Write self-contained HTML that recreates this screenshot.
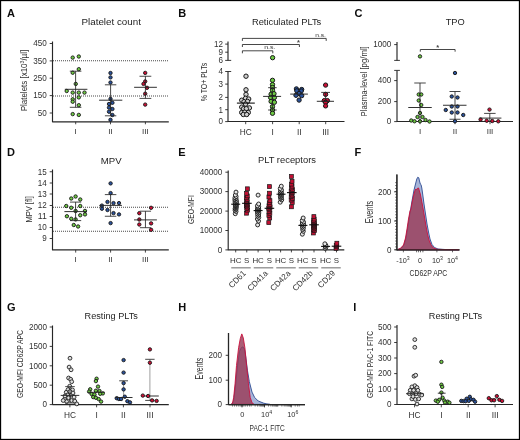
<!DOCTYPE html>
<html><head><meta charset="utf-8"><title>Figure</title>
<style>html,body{margin:0;padding:0;background:#fff;overflow:hidden;}svg{display:block;will-change:transform;}</style>
</head><body>
<svg width="520" height="440" viewBox="0 0 520 440">
<rect x="0" y="0" width="520" height="440" fill="#fff"/>
<g font-family='"Liberation Sans", sans-serif' fill="#303030">
<text x="7.00" y="16.50" font-size="11" font-weight="bold" fill="#0d0d0d">A</text>
<text x="81.50" y="24.95" font-size="9.4" fill="#1e1e1e" textLength="59.40" lengthAdjust="spacingAndGlyphs">Platelet count</text>
<line x1="52.50" y1="41.50" x2="52.50" y2="122.20" stroke="#262626" stroke-width="1.15"/>
<line x1="52.50" y1="121.80" x2="168.80" y2="121.80" stroke="#262626" stroke-width="1.15"/>
<line x1="49.70" y1="43.50" x2="52.50" y2="43.50" stroke="#262626" stroke-width="0.9"/>
<text x="46.80" y="46.30" font-size="9.2" text-anchor="end" textLength="13.51" lengthAdjust="spacingAndGlyphs">450</text>
<line x1="49.70" y1="60.90" x2="52.50" y2="60.90" stroke="#262626" stroke-width="0.9"/>
<text x="46.80" y="63.70" font-size="9.2" text-anchor="end" textLength="13.51" lengthAdjust="spacingAndGlyphs">350</text>
<line x1="49.70" y1="78.20" x2="52.50" y2="78.20" stroke="#262626" stroke-width="0.9"/>
<text x="46.80" y="81.00" font-size="9.2" text-anchor="end" textLength="13.51" lengthAdjust="spacingAndGlyphs">250</text>
<line x1="49.70" y1="95.60" x2="52.50" y2="95.60" stroke="#262626" stroke-width="0.9"/>
<text x="46.80" y="98.40" font-size="9.2" text-anchor="end" textLength="13.51" lengthAdjust="spacingAndGlyphs">150</text>
<line x1="49.70" y1="113.00" x2="52.50" y2="113.00" stroke="#262626" stroke-width="0.9"/>
<text x="46.80" y="115.80" font-size="9.2" text-anchor="end" textLength="9.01" lengthAdjust="spacingAndGlyphs">50</text>
<line x1="53.00" y1="60.70" x2="169.00" y2="60.70" stroke="#4a4a4a" stroke-width="1.1" stroke-dasharray="1 1"/>
<line x1="53.00" y1="96.00" x2="169.00" y2="96.00" stroke="#4a4a4a" stroke-width="1.1" stroke-dasharray="1 1"/>
<text x="27.10" y="80.55" font-size="8.5" text-anchor="middle" textLength="61.50" lengthAdjust="spacingAndGlyphs" transform="rotate(-90 27.10 80.55)">Platelets [x10<tspan font-size="5.5" dy="-3">3</tspan><tspan dy="3">/µl]</tspan></text>
<line x1="75.70" y1="121.80" x2="75.70" y2="124.30" stroke="#262626" stroke-width="0.85"/>
<text x="75.70" y="134.40" font-size="8" text-anchor="middle">I</text>
<line x1="110.50" y1="121.80" x2="110.50" y2="124.30" stroke="#262626" stroke-width="0.85"/>
<text x="110.50" y="134.40" font-size="8" text-anchor="middle">II</text>
<line x1="145.40" y1="121.80" x2="145.40" y2="124.30" stroke="#262626" stroke-width="0.85"/>
<text x="145.40" y="134.40" font-size="8" text-anchor="middle">III</text>
<circle cx="72.70" cy="57.60" r="1.7" fill="#6fcb45" stroke="#161616" stroke-width="0.9"/>
<circle cx="78.80" cy="56.50" r="1.7" fill="#6fcb45" stroke="#161616" stroke-width="0.9"/>
<circle cx="78.80" cy="69.20" r="1.7" fill="#6fcb45" stroke="#161616" stroke-width="0.9"/>
<circle cx="72.70" cy="72.70" r="1.7" fill="#6fcb45" stroke="#161616" stroke-width="0.9"/>
<circle cx="75.75" cy="83.90" r="1.7" fill="#6fcb45" stroke="#161616" stroke-width="0.9"/>
<circle cx="66.70" cy="91.00" r="1.7" fill="#6fcb45" stroke="#161616" stroke-width="0.9"/>
<circle cx="72.70" cy="92.60" r="1.7" fill="#6fcb45" stroke="#161616" stroke-width="0.9"/>
<circle cx="78.80" cy="92.60" r="1.7" fill="#6fcb45" stroke="#161616" stroke-width="0.9"/>
<circle cx="84.50" cy="92.60" r="1.7" fill="#6fcb45" stroke="#161616" stroke-width="0.9"/>
<circle cx="78.80" cy="97.40" r="1.7" fill="#6fcb45" stroke="#161616" stroke-width="0.9"/>
<circle cx="72.70" cy="99.30" r="1.7" fill="#6fcb45" stroke="#161616" stroke-width="0.9"/>
<circle cx="72.70" cy="101.70" r="1.7" fill="#6fcb45" stroke="#161616" stroke-width="0.9"/>
<circle cx="78.80" cy="105.20" r="1.7" fill="#6fcb45" stroke="#161616" stroke-width="0.9"/>
<circle cx="72.70" cy="114.10" r="1.7" fill="#6fcb45" stroke="#161616" stroke-width="0.9"/>
<circle cx="78.80" cy="114.90" r="1.7" fill="#6fcb45" stroke="#161616" stroke-width="0.9"/>
<line x1="75.60" y1="71.20" x2="75.60" y2="107.30" stroke="#262626" stroke-width="0.85"/>
<line x1="69.80" y1="71.20" x2="81.40" y2="71.20" stroke="#262626" stroke-width="0.85"/>
<line x1="69.80" y1="107.30" x2="81.40" y2="107.30" stroke="#262626" stroke-width="0.85"/>
<line x1="64.80" y1="89.30" x2="87.40" y2="89.30" stroke="#262626" stroke-width="0.95"/>
<circle cx="110.50" cy="73.00" r="1.7" fill="#2a529c" stroke="#161616" stroke-width="0.9"/>
<circle cx="110.50" cy="77.40" r="1.7" fill="#2a529c" stroke="#161616" stroke-width="0.9"/>
<circle cx="110.50" cy="82.50" r="1.7" fill="#2a529c" stroke="#161616" stroke-width="0.9"/>
<circle cx="110.50" cy="98.90" r="1.7" fill="#2a529c" stroke="#161616" stroke-width="0.9"/>
<circle cx="109.00" cy="104.00" r="1.7" fill="#2a529c" stroke="#161616" stroke-width="0.9"/>
<circle cx="112.40" cy="102.80" r="1.7" fill="#2a529c" stroke="#161616" stroke-width="0.9"/>
<circle cx="109.00" cy="107.60" r="1.7" fill="#2a529c" stroke="#161616" stroke-width="0.9"/>
<circle cx="112.40" cy="109.00" r="1.7" fill="#2a529c" stroke="#161616" stroke-width="0.9"/>
<circle cx="109.00" cy="111.70" r="1.7" fill="#2a529c" stroke="#161616" stroke-width="0.9"/>
<circle cx="112.40" cy="115.00" r="1.7" fill="#2a529c" stroke="#161616" stroke-width="0.9"/>
<circle cx="110.50" cy="119.80" r="1.7" fill="#2a529c" stroke="#161616" stroke-width="0.9"/>
<line x1="110.60" y1="84.80" x2="110.60" y2="115.80" stroke="#262626" stroke-width="0.85"/>
<line x1="104.90" y1="84.80" x2="116.30" y2="84.80" stroke="#262626" stroke-width="0.85"/>
<line x1="104.90" y1="115.80" x2="116.30" y2="115.80" stroke="#262626" stroke-width="0.85"/>
<line x1="99.10" y1="100.20" x2="122.30" y2="100.20" stroke="#262626" stroke-width="0.95"/>
<circle cx="145.20" cy="72.90" r="1.7" fill="#cc0f35" stroke="#161616" stroke-width="0.9"/>
<circle cx="145.20" cy="81.40" r="1.7" fill="#cc0f35" stroke="#161616" stroke-width="0.9"/>
<circle cx="143.50" cy="83.90" r="1.7" fill="#cc0f35" stroke="#161616" stroke-width="0.9"/>
<circle cx="147.00" cy="87.80" r="1.7" fill="#cc0f35" stroke="#161616" stroke-width="0.9"/>
<circle cx="145.20" cy="93.70" r="1.7" fill="#cc0f35" stroke="#161616" stroke-width="0.9"/>
<circle cx="145.20" cy="104.60" r="1.7" fill="#cc0f35" stroke="#161616" stroke-width="0.9"/>
<line x1="145.40" y1="76.25" x2="145.40" y2="98.40" stroke="#262626" stroke-width="0.85"/>
<line x1="139.50" y1="76.25" x2="151.30" y2="76.25" stroke="#262626" stroke-width="0.85"/>
<line x1="139.50" y1="98.40" x2="151.30" y2="98.40" stroke="#262626" stroke-width="0.85"/>
<line x1="134.10" y1="87.30" x2="156.90" y2="87.30" stroke="#262626" stroke-width="0.95"/>
<text x="178.30" y="16.50" font-size="11" font-weight="bold" fill="#0d0d0d">B</text>
<text x="251.90" y="24.95" font-size="9.2" fill="#1e1e1e" textLength="69.40" lengthAdjust="spacingAndGlyphs">Reticulated PLTs</text>
<line x1="228.00" y1="41.50" x2="228.00" y2="60.40" stroke="#262626" stroke-width="1.15"/>
<line x1="225.20" y1="60.40" x2="231.20" y2="60.40" stroke="#262626" stroke-width="0.9"/>
<line x1="228.00" y1="71.50" x2="228.00" y2="121.80" stroke="#262626" stroke-width="1.15"/>
<line x1="225.20" y1="71.50" x2="231.20" y2="71.50" stroke="#262626" stroke-width="0.9"/>
<line x1="228.00" y1="121.50" x2="344.50" y2="121.50" stroke="#262626" stroke-width="1.15"/>
<line x1="225.20" y1="44.10" x2="228.00" y2="44.10" stroke="#262626" stroke-width="0.9"/>
<text x="223.00" y="46.90" font-size="9.2" text-anchor="end" textLength="9.01" lengthAdjust="spacingAndGlyphs">12</text>
<line x1="225.20" y1="52.20" x2="228.00" y2="52.20" stroke="#262626" stroke-width="0.9"/>
<text x="223.00" y="55.00" font-size="9.2" text-anchor="end" textLength="4.50" lengthAdjust="spacingAndGlyphs">9</text>
<text x="223.00" y="63.20" font-size="9.2" text-anchor="end" textLength="4.50" lengthAdjust="spacingAndGlyphs">6</text>
<text x="223.00" y="74.30" font-size="9.2" text-anchor="end" textLength="4.50" lengthAdjust="spacingAndGlyphs">4</text>
<line x1="225.20" y1="84.10" x2="228.00" y2="84.10" stroke="#262626" stroke-width="0.9"/>
<text x="223.00" y="86.90" font-size="9.2" text-anchor="end" textLength="4.50" lengthAdjust="spacingAndGlyphs">3</text>
<line x1="225.20" y1="97.40" x2="228.00" y2="97.40" stroke="#262626" stroke-width="0.9"/>
<text x="223.00" y="100.20" font-size="9.2" text-anchor="end" textLength="4.50" lengthAdjust="spacingAndGlyphs">2</text>
<line x1="225.20" y1="109.70" x2="228.00" y2="109.70" stroke="#262626" stroke-width="0.9"/>
<text x="223.00" y="112.50" font-size="9.2" text-anchor="end" textLength="4.50" lengthAdjust="spacingAndGlyphs">1</text>
<line x1="225.20" y1="121.60" x2="228.00" y2="121.60" stroke="#262626" stroke-width="0.9"/>
<text x="223.00" y="124.40" font-size="9.2" text-anchor="end" textLength="4.50" lengthAdjust="spacingAndGlyphs">0</text>
<text x="207.40" y="82.05" font-size="9.0" text-anchor="middle" textLength="38.30" lengthAdjust="spacingAndGlyphs" transform="rotate(-90 207.40 82.05)">% TO+ PLTs</text>
<line x1="245.70" y1="121.50" x2="245.70" y2="124.20" stroke="#262626" stroke-width="0.85"/>
<text x="245.70" y="134.80" font-size="8.3" text-anchor="middle">HC</text>
<line x1="272.60" y1="121.50" x2="272.60" y2="124.20" stroke="#262626" stroke-width="0.85"/>
<text x="272.60" y="134.80" font-size="8.3" text-anchor="middle">I</text>
<line x1="299.20" y1="121.50" x2="299.20" y2="124.20" stroke="#262626" stroke-width="0.85"/>
<text x="299.20" y="134.80" font-size="8.3" text-anchor="middle">II</text>
<line x1="325.70" y1="121.50" x2="325.70" y2="124.20" stroke="#262626" stroke-width="0.85"/>
<text x="325.70" y="134.80" font-size="8.3" text-anchor="middle">III</text>
<polyline points="242.40,40.90 242.40,38.40 326.20,38.40 326.20,40.90" fill="none" stroke="#262626" stroke-width="0.85"/>
<polyline points="242.40,47.00 242.40,44.50 299.40,44.50 299.40,47.00" fill="none" stroke="#262626" stroke-width="0.85"/>
<polyline points="242.40,53.30 242.40,50.80 272.80,50.80 272.80,53.30" fill="none" stroke="#262626" stroke-width="0.85"/>
<text x="320.60" y="36.50" font-size="6.0" text-anchor="middle" textLength="10.80" lengthAdjust="spacingAndGlyphs">n.s.</text>
<text x="298.40" y="44.90" font-size="7.5" text-anchor="middle" font-weight="bold" fill="#444">*</text>
<text x="269.80" y="49.40" font-size="6.0" text-anchor="middle" textLength="11.30" lengthAdjust="spacingAndGlyphs">n.s.</text>
<circle cx="246.00" cy="76.20" r="2.2" fill="#cfcfcf" stroke="#161616" stroke-width="1.0"/>
<circle cx="246.00" cy="89.80" r="2.2" fill="#cfcfcf" stroke="#161616" stroke-width="1.0"/>
<circle cx="246.00" cy="94.40" r="2.2" fill="#cfcfcf" stroke="#161616" stroke-width="1.0"/>
<circle cx="245.60" cy="98.30" r="2.2" fill="#cfcfcf" stroke="#161616" stroke-width="1.0"/>
<circle cx="241.70" cy="100.20" r="2.2" fill="#cfcfcf" stroke="#161616" stroke-width="1.0"/>
<circle cx="248.70" cy="99.00" r="2.2" fill="#cfcfcf" stroke="#161616" stroke-width="1.0"/>
<circle cx="244.00" cy="101.70" r="2.2" fill="#cfcfcf" stroke="#161616" stroke-width="1.0"/>
<circle cx="247.50" cy="101.40" r="2.2" fill="#cfcfcf" stroke="#161616" stroke-width="1.0"/>
<circle cx="245.60" cy="104.10" r="2.2" fill="#cfcfcf" stroke="#161616" stroke-width="1.0"/>
<circle cx="241.70" cy="107.10" r="2.2" fill="#cfcfcf" stroke="#161616" stroke-width="1.0"/>
<circle cx="249.40" cy="107.90" r="2.2" fill="#cfcfcf" stroke="#161616" stroke-width="1.0"/>
<circle cx="243.60" cy="108.70" r="2.2" fill="#cfcfcf" stroke="#161616" stroke-width="1.0"/>
<circle cx="246.30" cy="108.70" r="2.2" fill="#cfcfcf" stroke="#161616" stroke-width="1.0"/>
<circle cx="241.70" cy="112.50" r="2.2" fill="#cfcfcf" stroke="#161616" stroke-width="1.0"/>
<circle cx="244.80" cy="112.20" r="2.2" fill="#cfcfcf" stroke="#161616" stroke-width="1.0"/>
<circle cx="248.30" cy="112.50" r="2.2" fill="#cfcfcf" stroke="#161616" stroke-width="1.0"/>
<circle cx="243.30" cy="114.50" r="2.2" fill="#cfcfcf" stroke="#161616" stroke-width="1.0"/>
<circle cx="246.70" cy="114.50" r="2.2" fill="#cfcfcf" stroke="#161616" stroke-width="1.0"/>
<line x1="236.90" y1="103.10" x2="254.80" y2="103.10" stroke="#111" stroke-width="1.1"/>
<circle cx="272.60" cy="57.70" r="2.15" fill="#6fcb45" stroke="#161616" stroke-width="1.0"/>
<circle cx="272.50" cy="80.30" r="2.15" fill="#6fcb45" stroke="#161616" stroke-width="1.0"/>
<circle cx="272.50" cy="84.60" r="2.15" fill="#6fcb45" stroke="#161616" stroke-width="1.0"/>
<circle cx="272.50" cy="87.50" r="2.15" fill="#6fcb45" stroke="#161616" stroke-width="1.0"/>
<circle cx="272.50" cy="90.40" r="2.15" fill="#6fcb45" stroke="#161616" stroke-width="1.0"/>
<circle cx="271.10" cy="94.20" r="2.15" fill="#6fcb45" stroke="#161616" stroke-width="1.0"/>
<circle cx="274.00" cy="93.70" r="2.15" fill="#6fcb45" stroke="#161616" stroke-width="1.0"/>
<circle cx="270.60" cy="97.50" r="2.15" fill="#6fcb45" stroke="#161616" stroke-width="1.0"/>
<circle cx="274.40" cy="97.50" r="2.15" fill="#6fcb45" stroke="#161616" stroke-width="1.0"/>
<circle cx="271.10" cy="101.40" r="2.15" fill="#6fcb45" stroke="#161616" stroke-width="1.0"/>
<circle cx="274.40" cy="102.30" r="2.15" fill="#6fcb45" stroke="#161616" stroke-width="1.0"/>
<circle cx="272.50" cy="106.60" r="2.15" fill="#6fcb45" stroke="#161616" stroke-width="1.0"/>
<circle cx="272.50" cy="110.00" r="2.15" fill="#6fcb45" stroke="#161616" stroke-width="1.0"/>
<circle cx="272.50" cy="113.30" r="2.15" fill="#6fcb45" stroke="#161616" stroke-width="1.0"/>
<line x1="272.40" y1="87.70" x2="272.40" y2="110.00" stroke="#262626" stroke-width="0.85"/>
<line x1="268.10" y1="87.70" x2="276.70" y2="87.70" stroke="#262626" stroke-width="0.85"/>
<line x1="268.10" y1="110.00" x2="276.70" y2="110.00" stroke="#262626" stroke-width="0.85"/>
<line x1="263.10" y1="96.40" x2="281.10" y2="96.40" stroke="#262626" stroke-width="0.95"/>
<circle cx="296.40" cy="88.90" r="2.15" fill="#2a529c" stroke="#161616" stroke-width="1.0"/>
<circle cx="301.70" cy="89.50" r="2.15" fill="#2a529c" stroke="#161616" stroke-width="1.0"/>
<circle cx="296.80" cy="90.80" r="2.15" fill="#2a529c" stroke="#161616" stroke-width="1.0"/>
<circle cx="301.20" cy="91.00" r="2.15" fill="#2a529c" stroke="#161616" stroke-width="1.0"/>
<circle cx="299.10" cy="93.50" r="2.15" fill="#2a529c" stroke="#161616" stroke-width="1.0"/>
<circle cx="296.00" cy="95.30" r="2.15" fill="#2a529c" stroke="#161616" stroke-width="1.0"/>
<circle cx="301.70" cy="95.70" r="2.15" fill="#2a529c" stroke="#161616" stroke-width="1.0"/>
<circle cx="299.10" cy="100.10" r="2.15" fill="#2a529c" stroke="#161616" stroke-width="1.0"/>
<line x1="290.20" y1="94.10" x2="307.90" y2="94.10" stroke="#262626" stroke-width="0.95"/>
<circle cx="325.60" cy="85.10" r="2.15" fill="#cc0f35" stroke="#161616" stroke-width="1.0"/>
<circle cx="325.60" cy="94.40" r="2.15" fill="#cc0f35" stroke="#161616" stroke-width="1.0"/>
<circle cx="324.30" cy="100.60" r="2.15" fill="#cc0f35" stroke="#161616" stroke-width="1.0"/>
<circle cx="327.40" cy="100.60" r="2.15" fill="#cc0f35" stroke="#161616" stroke-width="1.0"/>
<circle cx="325.60" cy="102.40" r="2.15" fill="#cc0f35" stroke="#161616" stroke-width="1.0"/>
<circle cx="325.60" cy="105.90" r="2.15" fill="#cc0f35" stroke="#161616" stroke-width="1.0"/>
<line x1="325.60" y1="92.40" x2="325.60" y2="101.30" stroke="#262626" stroke-width="0.85"/>
<line x1="321.20" y1="92.40" x2="330.00" y2="92.40" stroke="#262626" stroke-width="0.85"/>
<line x1="321.20" y1="101.30" x2="330.00" y2="101.30" stroke="#262626" stroke-width="0.85"/>
<line x1="316.80" y1="101.30" x2="334.00" y2="101.30" stroke="#262626" stroke-width="0.95"/>
<text x="354.60" y="16.50" font-size="11" font-weight="bold" fill="#0d0d0d">C</text>
<text x="445.70" y="24.95" font-size="9.2" fill="#1e1e1e" textLength="19.10" lengthAdjust="spacingAndGlyphs">TPO</text>
<line x1="397.00" y1="41.90" x2="397.00" y2="60.40" stroke="#262626" stroke-width="1.15"/>
<line x1="394.20" y1="60.40" x2="399.90" y2="60.40" stroke="#262626" stroke-width="0.9"/>
<line x1="397.00" y1="70.40" x2="397.00" y2="121.80" stroke="#262626" stroke-width="1.15"/>
<line x1="394.20" y1="70.40" x2="399.90" y2="70.40" stroke="#262626" stroke-width="0.9"/>
<line x1="397.00" y1="121.50" x2="513.00" y2="121.50" stroke="#262626" stroke-width="1.15"/>
<line x1="394.20" y1="44.60" x2="397.00" y2="44.60" stroke="#262626" stroke-width="0.9"/>
<text x="391.20" y="47.40" font-size="9.2" text-anchor="end" textLength="18.01" lengthAdjust="spacingAndGlyphs">1000</text>
<line x1="394.20" y1="80.60" x2="397.00" y2="80.60" stroke="#262626" stroke-width="0.9"/>
<text x="391.20" y="83.40" font-size="9.2" text-anchor="end" textLength="13.51" lengthAdjust="spacingAndGlyphs">400</text>
<line x1="394.20" y1="101.60" x2="397.00" y2="101.60" stroke="#262626" stroke-width="0.9"/>
<text x="391.20" y="104.40" font-size="9.2" text-anchor="end" textLength="13.51" lengthAdjust="spacingAndGlyphs">200</text>
<line x1="394.20" y1="121.60" x2="397.00" y2="121.60" stroke="#262626" stroke-width="0.9"/>
<text x="391.20" y="124.40" font-size="9.2" text-anchor="end" textLength="4.50" lengthAdjust="spacingAndGlyphs">0</text>
<text x="367.50" y="81.30" font-size="9.0" text-anchor="middle" textLength="70.20" lengthAdjust="spacingAndGlyphs" transform="rotate(-90 367.50 81.30)">Plasma-level [pg/ml]</text>
<line x1="420.00" y1="121.50" x2="420.00" y2="124.20" stroke="#262626" stroke-width="0.85"/>
<text x="420.00" y="134.40" font-size="8" text-anchor="middle">I</text>
<line x1="455.00" y1="121.50" x2="455.00" y2="124.20" stroke="#262626" stroke-width="0.85"/>
<text x="455.00" y="134.40" font-size="8" text-anchor="middle">II</text>
<line x1="490.00" y1="121.50" x2="490.00" y2="124.20" stroke="#262626" stroke-width="0.85"/>
<text x="490.00" y="134.40" font-size="8" text-anchor="middle">III</text>
<polyline points="420.30,51.70 420.30,49.50 455.10,49.50 455.10,51.70" fill="none" stroke="#262626" stroke-width="0.85"/>
<text x="437.60" y="50.20" font-size="7.5" text-anchor="middle" font-weight="bold" fill="#444">*</text>
<circle cx="420.00" cy="56.40" r="1.7" fill="#6fcb45" stroke="#161616" stroke-width="0.9"/>
<circle cx="418.75" cy="94.50" r="1.7" fill="#6fcb45" stroke="#161616" stroke-width="0.9"/>
<circle cx="421.25" cy="94.50" r="1.7" fill="#6fcb45" stroke="#161616" stroke-width="0.9"/>
<circle cx="418.75" cy="100.50" r="1.7" fill="#6fcb45" stroke="#161616" stroke-width="0.9"/>
<circle cx="421.25" cy="105.00" r="1.7" fill="#6fcb45" stroke="#161616" stroke-width="0.9"/>
<circle cx="420.00" cy="113.00" r="1.7" fill="#6fcb45" stroke="#161616" stroke-width="0.9"/>
<circle cx="417.50" cy="117.00" r="1.7" fill="#6fcb45" stroke="#161616" stroke-width="0.9"/>
<circle cx="422.50" cy="117.00" r="1.7" fill="#6fcb45" stroke="#161616" stroke-width="0.9"/>
<circle cx="411.25" cy="120.50" r="1.7" fill="#6fcb45" stroke="#161616" stroke-width="0.9"/>
<circle cx="414.50" cy="121.25" r="1.7" fill="#6fcb45" stroke="#161616" stroke-width="0.9"/>
<circle cx="420.00" cy="121.25" r="1.7" fill="#6fcb45" stroke="#161616" stroke-width="0.9"/>
<circle cx="425.50" cy="120.00" r="1.7" fill="#6fcb45" stroke="#161616" stroke-width="0.9"/>
<circle cx="429.50" cy="121.50" r="1.7" fill="#6fcb45" stroke="#161616" stroke-width="0.9"/>
<line x1="420.00" y1="83.00" x2="420.00" y2="121.50" stroke="#262626" stroke-width="0.85"/>
<line x1="414.25" y1="83.00" x2="425.75" y2="83.00" stroke="#262626" stroke-width="0.85"/>
<line x1="408.25" y1="107.50" x2="431.75" y2="107.50" stroke="#262626" stroke-width="0.95"/>
<circle cx="455.00" cy="73.00" r="1.7" fill="#2a529c" stroke="#161616" stroke-width="0.9"/>
<circle cx="451.75" cy="96.50" r="1.7" fill="#2a529c" stroke="#161616" stroke-width="0.9"/>
<circle cx="457.50" cy="97.50" r="1.7" fill="#2a529c" stroke="#161616" stroke-width="0.9"/>
<circle cx="451.75" cy="106.50" r="1.7" fill="#2a529c" stroke="#161616" stroke-width="0.9"/>
<circle cx="457.50" cy="106.50" r="1.7" fill="#2a529c" stroke="#161616" stroke-width="0.9"/>
<circle cx="445.75" cy="110.00" r="1.7" fill="#2a529c" stroke="#161616" stroke-width="0.9"/>
<circle cx="451.75" cy="112.50" r="1.7" fill="#2a529c" stroke="#161616" stroke-width="0.9"/>
<circle cx="457.50" cy="112.50" r="1.7" fill="#2a529c" stroke="#161616" stroke-width="0.9"/>
<circle cx="463.25" cy="115.00" r="1.7" fill="#2a529c" stroke="#161616" stroke-width="0.9"/>
<circle cx="455.00" cy="121.25" r="1.7" fill="#2a529c" stroke="#161616" stroke-width="0.9"/>
<line x1="455.00" y1="91.50" x2="455.00" y2="119.25" stroke="#262626" stroke-width="0.85"/>
<line x1="449.50" y1="91.50" x2="460.50" y2="91.50" stroke="#262626" stroke-width="0.85"/>
<line x1="449.50" y1="119.25" x2="460.50" y2="119.25" stroke="#262626" stroke-width="0.85"/>
<line x1="443.00" y1="105.25" x2="466.50" y2="105.25" stroke="#262626" stroke-width="0.95"/>
<circle cx="489.50" cy="109.60" r="1.7" fill="#cc0f35" stroke="#161616" stroke-width="0.9"/>
<circle cx="480.60" cy="119.50" r="1.7" fill="#cc0f35" stroke="#161616" stroke-width="0.9"/>
<circle cx="486.70" cy="120.70" r="1.7" fill="#cc0f35" stroke="#161616" stroke-width="0.9"/>
<circle cx="492.30" cy="121.00" r="1.7" fill="#cc0f35" stroke="#161616" stroke-width="0.9"/>
<circle cx="498.30" cy="121.30" r="1.7" fill="#cc0f35" stroke="#161616" stroke-width="0.9"/>
<line x1="489.80" y1="113.40" x2="489.80" y2="121.50" stroke="#262626" stroke-width="0.85"/>
<line x1="484.10" y1="113.40" x2="495.60" y2="113.40" stroke="#262626" stroke-width="0.85"/>
<line x1="479.40" y1="118.10" x2="501.40" y2="118.10" stroke="#262626" stroke-width="0.95"/>
<text x="7.00" y="155.60" font-size="11" font-weight="bold" fill="#0d0d0d">D</text>
<text x="100.75" y="163.95" font-size="9.2" fill="#1e1e1e" textLength="20.85" lengthAdjust="spacingAndGlyphs">MPV</text>
<line x1="52.50" y1="169.50" x2="52.50" y2="250.30" stroke="#262626" stroke-width="1.15"/>
<line x1="52.50" y1="249.90" x2="168.80" y2="249.90" stroke="#262626" stroke-width="1.15"/>
<line x1="49.70" y1="171.75" x2="52.50" y2="171.75" stroke="#262626" stroke-width="0.9"/>
<text x="46.80" y="174.55" font-size="9.2" text-anchor="end" textLength="9.01" lengthAdjust="spacingAndGlyphs">15</text>
<line x1="49.70" y1="183.00" x2="52.50" y2="183.00" stroke="#262626" stroke-width="0.9"/>
<text x="46.80" y="185.80" font-size="9.2" text-anchor="end" textLength="9.01" lengthAdjust="spacingAndGlyphs">14</text>
<line x1="49.70" y1="194.00" x2="52.50" y2="194.00" stroke="#262626" stroke-width="0.9"/>
<text x="46.80" y="196.80" font-size="9.2" text-anchor="end" textLength="9.01" lengthAdjust="spacingAndGlyphs">13</text>
<line x1="49.70" y1="205.50" x2="52.50" y2="205.50" stroke="#262626" stroke-width="0.9"/>
<text x="46.80" y="208.30" font-size="9.2" text-anchor="end" textLength="9.01" lengthAdjust="spacingAndGlyphs">12</text>
<line x1="49.70" y1="216.50" x2="52.50" y2="216.50" stroke="#262626" stroke-width="0.9"/>
<text x="46.80" y="219.30" font-size="9.2" text-anchor="end" textLength="9.01" lengthAdjust="spacingAndGlyphs">11</text>
<line x1="49.70" y1="227.50" x2="52.50" y2="227.50" stroke="#262626" stroke-width="0.9"/>
<text x="46.80" y="230.30" font-size="9.2" text-anchor="end" textLength="9.01" lengthAdjust="spacingAndGlyphs">10</text>
<line x1="49.70" y1="238.50" x2="52.50" y2="238.50" stroke="#262626" stroke-width="0.9"/>
<text x="46.80" y="241.30" font-size="9.2" text-anchor="end" textLength="4.50" lengthAdjust="spacingAndGlyphs">9</text>
<line x1="53.00" y1="207.30" x2="169.00" y2="207.30" stroke="#4a4a4a" stroke-width="1.1" stroke-dasharray="1 1"/>
<line x1="53.00" y1="231.20" x2="169.00" y2="231.20" stroke="#4a4a4a" stroke-width="1.1" stroke-dasharray="1 1"/>
<text x="32.20" y="209.40" font-size="8.9" text-anchor="middle" textLength="26.40" lengthAdjust="spacingAndGlyphs" transform="rotate(-90 32.20 209.40)">MPV [fl]</text>
<line x1="75.70" y1="249.90" x2="75.70" y2="252.60" stroke="#262626" stroke-width="0.85"/>
<text x="75.70" y="262.40" font-size="8" text-anchor="middle">I</text>
<line x1="110.60" y1="249.90" x2="110.60" y2="252.60" stroke="#262626" stroke-width="0.85"/>
<text x="110.60" y="262.40" font-size="8" text-anchor="middle">II</text>
<line x1="145.40" y1="249.90" x2="145.40" y2="252.60" stroke="#262626" stroke-width="0.85"/>
<text x="145.40" y="262.40" font-size="8" text-anchor="middle">III</text>
<circle cx="75.60" cy="196.50" r="1.7" fill="#6fcb45" stroke="#161616" stroke-width="0.9"/>
<circle cx="71.25" cy="198.50" r="1.7" fill="#6fcb45" stroke="#161616" stroke-width="0.9"/>
<circle cx="80.25" cy="199.50" r="1.7" fill="#6fcb45" stroke="#161616" stroke-width="0.9"/>
<circle cx="66.25" cy="206.00" r="1.7" fill="#6fcb45" stroke="#161616" stroke-width="0.9"/>
<circle cx="71.25" cy="207.75" r="1.7" fill="#6fcb45" stroke="#161616" stroke-width="0.9"/>
<circle cx="80.25" cy="206.00" r="1.7" fill="#6fcb45" stroke="#161616" stroke-width="0.9"/>
<circle cx="75.60" cy="211.00" r="1.7" fill="#6fcb45" stroke="#161616" stroke-width="0.9"/>
<circle cx="85.00" cy="210.90" r="1.7" fill="#6fcb45" stroke="#161616" stroke-width="0.9"/>
<circle cx="85.00" cy="214.40" r="1.7" fill="#6fcb45" stroke="#161616" stroke-width="0.9"/>
<circle cx="80.25" cy="215.25" r="1.7" fill="#6fcb45" stroke="#161616" stroke-width="0.9"/>
<circle cx="66.90" cy="216.25" r="1.7" fill="#6fcb45" stroke="#161616" stroke-width="0.9"/>
<circle cx="71.25" cy="218.75" r="1.7" fill="#6fcb45" stroke="#161616" stroke-width="0.9"/>
<circle cx="75.60" cy="219.40" r="1.7" fill="#6fcb45" stroke="#161616" stroke-width="0.9"/>
<circle cx="73.75" cy="225.00" r="1.7" fill="#6fcb45" stroke="#161616" stroke-width="0.9"/>
<circle cx="78.10" cy="226.50" r="1.7" fill="#6fcb45" stroke="#161616" stroke-width="0.9"/>
<line x1="75.60" y1="202.10" x2="75.60" y2="220.60" stroke="#262626" stroke-width="0.85"/>
<line x1="70.00" y1="202.10" x2="81.20" y2="202.10" stroke="#262626" stroke-width="0.85"/>
<line x1="70.00" y1="220.60" x2="81.20" y2="220.60" stroke="#262626" stroke-width="0.85"/>
<line x1="64.40" y1="211.60" x2="86.90" y2="211.60" stroke="#262626" stroke-width="0.95"/>
<circle cx="110.60" cy="183.40" r="1.7" fill="#2a529c" stroke="#161616" stroke-width="0.9"/>
<circle cx="110.60" cy="193.10" r="1.7" fill="#2a529c" stroke="#161616" stroke-width="0.9"/>
<circle cx="107.50" cy="201.90" r="1.7" fill="#2a529c" stroke="#161616" stroke-width="0.9"/>
<circle cx="113.50" cy="203.10" r="1.7" fill="#2a529c" stroke="#161616" stroke-width="0.9"/>
<circle cx="119.00" cy="203.10" r="1.7" fill="#2a529c" stroke="#161616" stroke-width="0.9"/>
<circle cx="101.90" cy="205.60" r="1.7" fill="#2a529c" stroke="#161616" stroke-width="0.9"/>
<circle cx="101.90" cy="208.75" r="1.7" fill="#2a529c" stroke="#161616" stroke-width="0.9"/>
<circle cx="107.50" cy="210.00" r="1.7" fill="#2a529c" stroke="#161616" stroke-width="0.9"/>
<circle cx="113.50" cy="213.10" r="1.7" fill="#2a529c" stroke="#161616" stroke-width="0.9"/>
<circle cx="119.00" cy="214.40" r="1.7" fill="#2a529c" stroke="#161616" stroke-width="0.9"/>
<circle cx="110.60" cy="223.10" r="1.7" fill="#2a529c" stroke="#161616" stroke-width="0.9"/>
<line x1="110.60" y1="194.60" x2="110.60" y2="216.25" stroke="#262626" stroke-width="0.85"/>
<line x1="104.85" y1="194.60" x2="116.35" y2="194.60" stroke="#262626" stroke-width="0.85"/>
<line x1="104.85" y1="216.25" x2="116.35" y2="216.25" stroke="#262626" stroke-width="0.85"/>
<line x1="99.40" y1="205.40" x2="121.90" y2="205.40" stroke="#262626" stroke-width="0.95"/>
<circle cx="151.10" cy="207.80" r="1.7" fill="#cc0f35" stroke="#161616" stroke-width="0.9"/>
<circle cx="139.30" cy="213.20" r="1.7" fill="#cc0f35" stroke="#161616" stroke-width="0.9"/>
<circle cx="139.30" cy="219.50" r="1.7" fill="#cc0f35" stroke="#161616" stroke-width="0.9"/>
<circle cx="139.30" cy="224.50" r="1.7" fill="#cc0f35" stroke="#161616" stroke-width="0.9"/>
<circle cx="151.10" cy="223.40" r="1.7" fill="#cc0f35" stroke="#161616" stroke-width="0.9"/>
<circle cx="151.10" cy="229.80" r="1.7" fill="#cc0f35" stroke="#161616" stroke-width="0.9"/>
<line x1="145.45" y1="211.20" x2="145.45" y2="227.70" stroke="#262626" stroke-width="0.85"/>
<line x1="139.85" y1="211.20" x2="151.05" y2="211.20" stroke="#262626" stroke-width="0.85"/>
<line x1="139.85" y1="227.70" x2="151.05" y2="227.70" stroke="#262626" stroke-width="0.85"/>
<line x1="134.00" y1="219.90" x2="156.90" y2="219.90" stroke="#262626" stroke-width="0.95"/>
<text x="178.30" y="155.60" font-size="11" font-weight="bold" fill="#0d0d0d">E</text>
<text x="257.90" y="163.45" font-size="9.2" fill="#1e1e1e" textLength="58.10" lengthAdjust="spacingAndGlyphs">PLT receptors</text>
<line x1="228.20" y1="170.50" x2="228.20" y2="250.30" stroke="#262626" stroke-width="1.15"/>
<line x1="228.20" y1="249.90" x2="344.30" y2="249.90" stroke="#262626" stroke-width="1.15"/>
<line x1="225.40" y1="172.20" x2="228.20" y2="172.20" stroke="#262626" stroke-width="0.9"/>
<text x="222.30" y="175.00" font-size="9.2" text-anchor="end" textLength="22.52" lengthAdjust="spacingAndGlyphs">40000</text>
<line x1="225.40" y1="191.60" x2="228.20" y2="191.60" stroke="#262626" stroke-width="0.9"/>
<text x="222.30" y="194.40" font-size="9.2" text-anchor="end" textLength="22.52" lengthAdjust="spacingAndGlyphs">30000</text>
<line x1="225.40" y1="211.10" x2="228.20" y2="211.10" stroke="#262626" stroke-width="0.9"/>
<text x="222.30" y="213.90" font-size="9.2" text-anchor="end" textLength="22.52" lengthAdjust="spacingAndGlyphs">20000</text>
<line x1="225.40" y1="230.50" x2="228.20" y2="230.50" stroke="#262626" stroke-width="0.9"/>
<text x="222.30" y="233.30" font-size="9.2" text-anchor="end" textLength="22.52" lengthAdjust="spacingAndGlyphs">10000</text>
<line x1="225.40" y1="249.90" x2="228.20" y2="249.90" stroke="#262626" stroke-width="0.9"/>
<text x="222.30" y="252.70" font-size="9.2" text-anchor="end" textLength="4.50" lengthAdjust="spacingAndGlyphs">0</text>
<text x="194.20" y="209.65" font-size="8.3" text-anchor="middle" textLength="28.90" lengthAdjust="spacingAndGlyphs" transform="rotate(-90 194.20 209.65)">GEO-MFI</text>
<line x1="235.70" y1="249.90" x2="235.70" y2="252.40" stroke="#262626" stroke-width="0.85"/>
<line x1="258.10" y1="249.90" x2="258.10" y2="252.40" stroke="#262626" stroke-width="0.85"/>
<line x1="280.60" y1="249.90" x2="280.60" y2="252.40" stroke="#262626" stroke-width="0.85"/>
<line x1="302.70" y1="249.90" x2="302.70" y2="252.40" stroke="#262626" stroke-width="0.85"/>
<line x1="325.60" y1="249.90" x2="325.60" y2="252.40" stroke="#262626" stroke-width="0.85"/>
<line x1="246.75" y1="249.90" x2="246.75" y2="252.40" stroke="#262626" stroke-width="0.85"/>
<line x1="269.50" y1="249.90" x2="269.50" y2="252.40" stroke="#262626" stroke-width="0.85"/>
<line x1="291.40" y1="249.90" x2="291.40" y2="252.40" stroke="#262626" stroke-width="0.85"/>
<line x1="314.00" y1="249.90" x2="314.00" y2="252.40" stroke="#262626" stroke-width="0.85"/>
<line x1="336.50" y1="249.90" x2="336.50" y2="252.40" stroke="#262626" stroke-width="0.85"/>
<text x="235.70" y="263.00" font-size="7.9" text-anchor="middle">HC</text>
<text x="258.10" y="263.00" font-size="7.9" text-anchor="middle">HC</text>
<text x="280.60" y="263.00" font-size="7.9" text-anchor="middle">HC</text>
<text x="302.70" y="263.00" font-size="7.9" text-anchor="middle">HC</text>
<text x="325.60" y="263.00" font-size="7.9" text-anchor="middle">HC</text>
<text x="246.75" y="263.00" font-size="7.9" text-anchor="middle">S</text>
<text x="269.50" y="263.00" font-size="7.9" text-anchor="middle">S</text>
<text x="291.40" y="263.00" font-size="7.9" text-anchor="middle">S</text>
<text x="314.00" y="263.00" font-size="7.9" text-anchor="middle">S</text>
<text x="336.50" y="263.00" font-size="7.9" text-anchor="middle">S</text>
<line x1="231.25" y1="267.80" x2="250.75" y2="267.80" stroke="#8c8c8c" stroke-width="1.3"/>
<line x1="253.75" y1="267.80" x2="273.25" y2="267.80" stroke="#8c8c8c" stroke-width="1.3"/>
<line x1="276.25" y1="267.80" x2="295.75" y2="267.80" stroke="#8c8c8c" stroke-width="1.3"/>
<line x1="298.75" y1="267.80" x2="318.25" y2="267.80" stroke="#8c8c8c" stroke-width="1.3"/>
<line x1="321.25" y1="267.80" x2="340.75" y2="267.80" stroke="#8c8c8c" stroke-width="1.3"/>
<text x="0" y="0" font-size="8.3" text-anchor="end" textLength="20.5" lengthAdjust="spacingAndGlyphs" transform="translate(246.40 273.90) rotate(-45)">CD61</text>
<text x="0" y="0" font-size="8.3" text-anchor="end" textLength="25" lengthAdjust="spacingAndGlyphs" transform="translate(268.40 273.90) rotate(-45)">CD41a</text>
<text x="0" y="0" font-size="8.3" text-anchor="end" textLength="25" lengthAdjust="spacingAndGlyphs" transform="translate(291.10 273.90) rotate(-45)">CD42a</text>
<text x="0" y="0" font-size="8.3" text-anchor="end" textLength="25" lengthAdjust="spacingAndGlyphs" transform="translate(313.40 273.90) rotate(-45)">CD42b</text>
<text x="0" y="0" font-size="8.3" text-anchor="end" textLength="20.5" lengthAdjust="spacingAndGlyphs" transform="translate(335.60 273.90) rotate(-45)">CD29</text>
<circle cx="235.28" cy="213.70" r="2.0" fill="#e6e6e6" stroke="#161616" stroke-width="0.9"/>
<circle cx="236.02" cy="211.43" r="2.0" fill="#e6e6e6" stroke="#161616" stroke-width="0.9"/>
<circle cx="235.10" cy="210.19" r="2.0" fill="#e6e6e6" stroke="#161616" stroke-width="0.9"/>
<circle cx="235.98" cy="209.27" r="2.0" fill="#e6e6e6" stroke="#161616" stroke-width="0.9"/>
<circle cx="235.16" cy="208.53" r="2.0" fill="#e6e6e6" stroke="#161616" stroke-width="0.9"/>
<circle cx="236.14" cy="207.88" r="2.0" fill="#e6e6e6" stroke="#161616" stroke-width="0.9"/>
<circle cx="235.43" cy="207.30" r="2.0" fill="#e6e6e6" stroke="#161616" stroke-width="0.9"/>
<circle cx="236.22" cy="206.76" r="2.0" fill="#e6e6e6" stroke="#161616" stroke-width="0.9"/>
<circle cx="235.44" cy="206.26" r="2.0" fill="#e6e6e6" stroke="#161616" stroke-width="0.9"/>
<circle cx="236.18" cy="205.78" r="2.0" fill="#e6e6e6" stroke="#161616" stroke-width="0.9"/>
<circle cx="235.42" cy="205.32" r="2.0" fill="#e6e6e6" stroke="#161616" stroke-width="0.9"/>
<circle cx="235.99" cy="204.87" r="2.0" fill="#e6e6e6" stroke="#161616" stroke-width="0.9"/>
<circle cx="235.22" cy="204.42" r="2.0" fill="#e6e6e6" stroke="#161616" stroke-width="0.9"/>
<circle cx="236.40" cy="203.92" r="2.0" fill="#e6e6e6" stroke="#161616" stroke-width="0.9"/>
<circle cx="235.39" cy="203.35" r="2.0" fill="#e6e6e6" stroke="#161616" stroke-width="0.9"/>
<circle cx="236.07" cy="202.78" r="2.0" fill="#e6e6e6" stroke="#161616" stroke-width="0.9"/>
<circle cx="235.11" cy="202.19" r="2.0" fill="#e6e6e6" stroke="#161616" stroke-width="0.9"/>
<circle cx="236.47" cy="201.58" r="2.0" fill="#e6e6e6" stroke="#161616" stroke-width="0.9"/>
<circle cx="235.14" cy="200.94" r="2.0" fill="#e6e6e6" stroke="#161616" stroke-width="0.9"/>
<circle cx="236.16" cy="200.25" r="2.0" fill="#e6e6e6" stroke="#161616" stroke-width="0.9"/>
<circle cx="234.91" cy="199.51" r="2.0" fill="#e6e6e6" stroke="#161616" stroke-width="0.9"/>
<circle cx="235.97" cy="198.69" r="2.0" fill="#e6e6e6" stroke="#161616" stroke-width="0.9"/>
<circle cx="234.98" cy="197.74" r="2.0" fill="#e6e6e6" stroke="#161616" stroke-width="0.9"/>
<circle cx="236.10" cy="196.57" r="2.0" fill="#e6e6e6" stroke="#161616" stroke-width="0.9"/>
<circle cx="235.38" cy="194.99" r="2.0" fill="#e6e6e6" stroke="#161616" stroke-width="0.9"/>
<circle cx="236.01" cy="192.10" r="2.0" fill="#e6e6e6" stroke="#161616" stroke-width="0.9"/>
<line x1="231.20" y1="204.20" x2="240.20" y2="204.20" stroke="#0d0d0d" stroke-width="1.1"/>
<rect x="244.64" y="211.25" width="3.9" height="3.9" fill="#c20f33" stroke="#161616" stroke-width="0.7"/>
<rect x="245.55" y="208.17" width="3.9" height="3.9" fill="#c20f33" stroke="#161616" stroke-width="0.7"/>
<rect x="244.71" y="206.41" width="3.9" height="3.9" fill="#c20f33" stroke="#161616" stroke-width="0.7"/>
<rect x="245.42" y="205.06" width="3.9" height="3.9" fill="#c20f33" stroke="#161616" stroke-width="0.7"/>
<rect x="244.45" y="203.90" width="3.9" height="3.9" fill="#c20f33" stroke="#161616" stroke-width="0.7"/>
<rect x="245.30" y="202.84" width="3.9" height="3.9" fill="#c20f33" stroke="#161616" stroke-width="0.7"/>
<rect x="244.50" y="201.84" width="3.9" height="3.9" fill="#c20f33" stroke="#161616" stroke-width="0.7"/>
<rect x="245.13" y="200.63" width="3.9" height="3.9" fill="#c20f33" stroke="#161616" stroke-width="0.7"/>
<rect x="244.78" y="199.16" width="3.9" height="3.9" fill="#c20f33" stroke="#161616" stroke-width="0.7"/>
<rect x="245.21" y="197.62" width="3.9" height="3.9" fill="#c20f33" stroke="#161616" stroke-width="0.7"/>
<rect x="244.43" y="195.92" width="3.9" height="3.9" fill="#c20f33" stroke="#161616" stroke-width="0.7"/>
<rect x="245.33" y="193.94" width="3.9" height="3.9" fill="#c20f33" stroke="#161616" stroke-width="0.7"/>
<rect x="244.63" y="191.36" width="3.9" height="3.9" fill="#c20f33" stroke="#161616" stroke-width="0.7"/>
<rect x="245.42" y="186.85" width="3.9" height="3.9" fill="#c20f33" stroke="#161616" stroke-width="0.7"/>
<line x1="242.10" y1="203.30" x2="251.70" y2="203.30" stroke="#0d0d0d" stroke-width="1.1"/>
<circle cx="257.61" cy="224.90" r="2.0" fill="#e6e6e6" stroke="#161616" stroke-width="0.9"/>
<circle cx="258.51" cy="221.11" r="2.0" fill="#e6e6e6" stroke="#161616" stroke-width="0.9"/>
<circle cx="257.42" cy="219.00" r="2.0" fill="#e6e6e6" stroke="#161616" stroke-width="0.9"/>
<circle cx="258.73" cy="217.42" r="2.0" fill="#e6e6e6" stroke="#161616" stroke-width="0.9"/>
<circle cx="257.72" cy="216.11" r="2.0" fill="#e6e6e6" stroke="#161616" stroke-width="0.9"/>
<circle cx="258.66" cy="214.96" r="2.0" fill="#e6e6e6" stroke="#161616" stroke-width="0.9"/>
<circle cx="257.57" cy="213.91" r="2.0" fill="#e6e6e6" stroke="#161616" stroke-width="0.9"/>
<circle cx="258.83" cy="212.93" r="2.0" fill="#e6e6e6" stroke="#161616" stroke-width="0.9"/>
<circle cx="257.45" cy="211.98" r="2.0" fill="#e6e6e6" stroke="#161616" stroke-width="0.9"/>
<circle cx="258.50" cy="211.06" r="2.0" fill="#e6e6e6" stroke="#161616" stroke-width="0.9"/>
<circle cx="257.31" cy="210.39" r="2.0" fill="#e6e6e6" stroke="#161616" stroke-width="0.9"/>
<circle cx="258.41" cy="209.96" r="2.0" fill="#e6e6e6" stroke="#161616" stroke-width="0.9"/>
<circle cx="257.63" cy="209.53" r="2.0" fill="#e6e6e6" stroke="#161616" stroke-width="0.9"/>
<circle cx="258.76" cy="209.07" r="2.0" fill="#e6e6e6" stroke="#161616" stroke-width="0.9"/>
<circle cx="257.77" cy="208.59" r="2.0" fill="#e6e6e6" stroke="#161616" stroke-width="0.9"/>
<circle cx="258.61" cy="208.05" r="2.0" fill="#e6e6e6" stroke="#161616" stroke-width="0.9"/>
<circle cx="257.84" cy="207.45" r="2.0" fill="#e6e6e6" stroke="#161616" stroke-width="0.9"/>
<circle cx="258.71" cy="206.72" r="2.0" fill="#e6e6e6" stroke="#161616" stroke-width="0.9"/>
<circle cx="257.43" cy="205.75" r="2.0" fill="#e6e6e6" stroke="#161616" stroke-width="0.9"/>
<circle cx="258.66" cy="204.00" r="2.0" fill="#e6e6e6" stroke="#161616" stroke-width="0.9"/>
<circle cx="258.10" cy="195.10" r="2.0" fill="#e6e6e6" stroke="#161616" stroke-width="0.9"/>
<line x1="253.60" y1="210.60" x2="262.60" y2="210.60" stroke="#0d0d0d" stroke-width="1.1"/>
<rect x="266.82" y="220.65" width="3.9" height="3.9" fill="#c20f33" stroke="#161616" stroke-width="0.7"/>
<rect x="267.77" y="216.04" width="3.9" height="3.9" fill="#c20f33" stroke="#161616" stroke-width="0.7"/>
<rect x="266.92" y="213.38" width="3.9" height="3.9" fill="#c20f33" stroke="#161616" stroke-width="0.7"/>
<rect x="267.92" y="211.32" width="3.9" height="3.9" fill="#c20f33" stroke="#161616" stroke-width="0.7"/>
<rect x="266.99" y="209.55" width="3.9" height="3.9" fill="#c20f33" stroke="#161616" stroke-width="0.7"/>
<rect x="267.85" y="207.92" width="3.9" height="3.9" fill="#c20f33" stroke="#161616" stroke-width="0.7"/>
<rect x="266.84" y="206.35" width="3.9" height="3.9" fill="#c20f33" stroke="#161616" stroke-width="0.7"/>
<rect x="268.12" y="205.11" width="3.9" height="3.9" fill="#c20f33" stroke="#161616" stroke-width="0.7"/>
<rect x="267.04" y="203.82" width="3.9" height="3.9" fill="#c20f33" stroke="#161616" stroke-width="0.7"/>
<rect x="267.96" y="202.42" width="3.9" height="3.9" fill="#c20f33" stroke="#161616" stroke-width="0.7"/>
<rect x="267.28" y="200.79" width="3.9" height="3.9" fill="#c20f33" stroke="#161616" stroke-width="0.7"/>
<rect x="267.98" y="198.69" width="3.9" height="3.9" fill="#c20f33" stroke="#161616" stroke-width="0.7"/>
<rect x="266.95" y="195.05" width="3.9" height="3.9" fill="#c20f33" stroke="#161616" stroke-width="0.7"/>
<rect x="267.45" y="184.65" width="3.9" height="3.9" fill="#c20f33" stroke="#161616" stroke-width="0.7"/>
<rect x="267.45" y="191.25" width="3.9" height="3.9" fill="#c20f33" stroke="#161616" stroke-width="0.7"/>
<line x1="264.60" y1="208.30" x2="274.20" y2="208.30" stroke="#0d0d0d" stroke-width="1.1"/>
<circle cx="280.20" cy="202.20" r="2.0" fill="#e6e6e6" stroke="#161616" stroke-width="0.9"/>
<circle cx="281.70" cy="199.86" r="2.0" fill="#e6e6e6" stroke="#161616" stroke-width="0.9"/>
<circle cx="280.60" cy="198.54" r="2.0" fill="#e6e6e6" stroke="#161616" stroke-width="0.9"/>
<circle cx="281.46" cy="197.54" r="2.0" fill="#e6e6e6" stroke="#161616" stroke-width="0.9"/>
<circle cx="280.39" cy="196.69" r="2.0" fill="#e6e6e6" stroke="#161616" stroke-width="0.9"/>
<circle cx="281.25" cy="195.93" r="2.0" fill="#e6e6e6" stroke="#161616" stroke-width="0.9"/>
<circle cx="280.50" cy="195.22" r="2.0" fill="#e6e6e6" stroke="#161616" stroke-width="0.9"/>
<circle cx="281.33" cy="194.54" r="2.0" fill="#e6e6e6" stroke="#161616" stroke-width="0.9"/>
<circle cx="280.69" cy="193.86" r="2.0" fill="#e6e6e6" stroke="#161616" stroke-width="0.9"/>
<circle cx="281.27" cy="193.18" r="2.0" fill="#e6e6e6" stroke="#161616" stroke-width="0.9"/>
<circle cx="280.33" cy="192.47" r="2.0" fill="#e6e6e6" stroke="#161616" stroke-width="0.9"/>
<circle cx="281.31" cy="191.71" r="2.0" fill="#e6e6e6" stroke="#161616" stroke-width="0.9"/>
<circle cx="280.62" cy="190.86" r="2.0" fill="#e6e6e6" stroke="#161616" stroke-width="0.9"/>
<circle cx="281.46" cy="189.86" r="2.0" fill="#e6e6e6" stroke="#161616" stroke-width="0.9"/>
<circle cx="280.27" cy="188.54" r="2.0" fill="#e6e6e6" stroke="#161616" stroke-width="0.9"/>
<circle cx="281.29" cy="186.20" r="2.0" fill="#e6e6e6" stroke="#161616" stroke-width="0.9"/>
<line x1="276.50" y1="194.20" x2="285.50" y2="194.20" stroke="#0d0d0d" stroke-width="1.1"/>
<rect x="289.46" y="204.85" width="3.9" height="3.9" fill="#c20f33" stroke="#161616" stroke-width="0.7"/>
<rect x="290.30" y="200.58" width="3.9" height="3.9" fill="#c20f33" stroke="#161616" stroke-width="0.7"/>
<rect x="289.22" y="198.14" width="3.9" height="3.9" fill="#c20f33" stroke="#161616" stroke-width="0.7"/>
<rect x="290.45" y="196.29" width="3.9" height="3.9" fill="#c20f33" stroke="#161616" stroke-width="0.7"/>
<rect x="289.23" y="194.71" width="3.9" height="3.9" fill="#c20f33" stroke="#161616" stroke-width="0.7"/>
<rect x="290.15" y="193.29" width="3.9" height="3.9" fill="#c20f33" stroke="#161616" stroke-width="0.7"/>
<rect x="289.48" y="191.95" width="3.9" height="3.9" fill="#c20f33" stroke="#161616" stroke-width="0.7"/>
<rect x="290.19" y="190.65" width="3.9" height="3.9" fill="#c20f33" stroke="#161616" stroke-width="0.7"/>
<rect x="289.21" y="189.18" width="3.9" height="3.9" fill="#c20f33" stroke="#161616" stroke-width="0.7"/>
<rect x="290.53" y="187.66" width="3.9" height="3.9" fill="#c20f33" stroke="#161616" stroke-width="0.7"/>
<rect x="289.63" y="186.04" width="3.9" height="3.9" fill="#c20f33" stroke="#161616" stroke-width="0.7"/>
<rect x="290.09" y="184.26" width="3.9" height="3.9" fill="#c20f33" stroke="#161616" stroke-width="0.7"/>
<rect x="289.58" y="182.15" width="3.9" height="3.9" fill="#c20f33" stroke="#161616" stroke-width="0.7"/>
<rect x="290.12" y="179.39" width="3.9" height="3.9" fill="#c20f33" stroke="#161616" stroke-width="0.7"/>
<rect x="289.44" y="174.55" width="3.9" height="3.9" fill="#c20f33" stroke="#161616" stroke-width="0.7"/>
<line x1="287.00" y1="192.60" x2="296.60" y2="192.60" stroke="#0d0d0d" stroke-width="1.1"/>
<circle cx="302.33" cy="234.20" r="2.0" fill="#e6e6e6" stroke="#161616" stroke-width="0.9"/>
<circle cx="303.29" cy="231.25" r="2.0" fill="#e6e6e6" stroke="#161616" stroke-width="0.9"/>
<circle cx="302.66" cy="229.53" r="2.0" fill="#e6e6e6" stroke="#161616" stroke-width="0.9"/>
<circle cx="303.37" cy="228.19" r="2.0" fill="#e6e6e6" stroke="#161616" stroke-width="0.9"/>
<circle cx="302.45" cy="227.02" r="2.0" fill="#e6e6e6" stroke="#161616" stroke-width="0.9"/>
<circle cx="303.46" cy="225.93" r="2.0" fill="#e6e6e6" stroke="#161616" stroke-width="0.9"/>
<circle cx="302.13" cy="224.95" r="2.0" fill="#e6e6e6" stroke="#161616" stroke-width="0.9"/>
<circle cx="303.53" cy="224.04" r="2.0" fill="#e6e6e6" stroke="#161616" stroke-width="0.9"/>
<circle cx="302.37" cy="223.06" r="2.0" fill="#e6e6e6" stroke="#161616" stroke-width="0.9"/>
<circle cx="303.49" cy="221.93" r="2.0" fill="#e6e6e6" stroke="#161616" stroke-width="0.9"/>
<circle cx="302.28" cy="220.48" r="2.0" fill="#e6e6e6" stroke="#161616" stroke-width="0.9"/>
<circle cx="303.17" cy="218.00" r="2.0" fill="#e6e6e6" stroke="#161616" stroke-width="0.9"/>
<line x1="298.40" y1="225.40" x2="307.40" y2="225.40" stroke="#0d0d0d" stroke-width="1.1"/>
<rect x="311.41" y="231.05" width="3.9" height="3.9" fill="#c20f33" stroke="#161616" stroke-width="0.7"/>
<rect x="312.63" y="228.58" width="3.9" height="3.9" fill="#c20f33" stroke="#161616" stroke-width="0.7"/>
<rect x="311.42" y="227.18" width="3.9" height="3.9" fill="#c20f33" stroke="#161616" stroke-width="0.7"/>
<rect x="312.64" y="226.11" width="3.9" height="3.9" fill="#c20f33" stroke="#161616" stroke-width="0.7"/>
<rect x="311.69" y="225.20" width="3.9" height="3.9" fill="#c20f33" stroke="#161616" stroke-width="0.7"/>
<rect x="312.41" y="224.37" width="3.9" height="3.9" fill="#c20f33" stroke="#161616" stroke-width="0.7"/>
<rect x="311.85" y="223.60" width="3.9" height="3.9" fill="#c20f33" stroke="#161616" stroke-width="0.7"/>
<rect x="312.55" y="222.85" width="3.9" height="3.9" fill="#c20f33" stroke="#161616" stroke-width="0.7"/>
<rect x="311.88" y="222.10" width="3.9" height="3.9" fill="#c20f33" stroke="#161616" stroke-width="0.7"/>
<rect x="312.23" y="221.33" width="3.9" height="3.9" fill="#c20f33" stroke="#161616" stroke-width="0.7"/>
<rect x="311.79" y="220.50" width="3.9" height="3.9" fill="#c20f33" stroke="#161616" stroke-width="0.7"/>
<rect x="312.28" y="219.59" width="3.9" height="3.9" fill="#c20f33" stroke="#161616" stroke-width="0.7"/>
<rect x="311.72" y="218.52" width="3.9" height="3.9" fill="#c20f33" stroke="#161616" stroke-width="0.7"/>
<rect x="312.22" y="217.12" width="3.9" height="3.9" fill="#c20f33" stroke="#161616" stroke-width="0.7"/>
<rect x="311.91" y="214.65" width="3.9" height="3.9" fill="#c20f33" stroke="#161616" stroke-width="0.7"/>
<line x1="309.20" y1="224.80" x2="318.80" y2="224.80" stroke="#0d0d0d" stroke-width="1.1"/>
<circle cx="325.28" cy="248.40" r="2.0" fill="#e6e6e6" stroke="#161616" stroke-width="0.9"/>
<circle cx="325.90" cy="247.22" r="2.0" fill="#e6e6e6" stroke="#161616" stroke-width="0.9"/>
<circle cx="325.16" cy="246.40" r="2.0" fill="#e6e6e6" stroke="#161616" stroke-width="0.9"/>
<circle cx="325.85" cy="245.34" r="2.0" fill="#e6e6e6" stroke="#161616" stroke-width="0.9"/>
<circle cx="324.87" cy="243.80" r="2.0" fill="#e6e6e6" stroke="#161616" stroke-width="0.9"/>
<line x1="321.10" y1="246.40" x2="330.10" y2="246.40" stroke="#0d0d0d" stroke-width="1.1"/>
<rect x="334.07" y="246.45" width="3.9" height="3.9" fill="#c20f33" stroke="#161616" stroke-width="0.7"/>
<rect x="334.77" y="244.86" width="3.9" height="3.9" fill="#c20f33" stroke="#161616" stroke-width="0.7"/>
<rect x="334.27" y="243.42" width="3.9" height="3.9" fill="#c20f33" stroke="#161616" stroke-width="0.7"/>
<rect x="334.88" y="241.25" width="3.9" height="3.9" fill="#c20f33" stroke="#161616" stroke-width="0.7"/>
<line x1="331.70" y1="246.20" x2="341.30" y2="246.20" stroke="#0d0d0d" stroke-width="1.1"/>
<text x="354.40" y="155.60" font-size="11" font-weight="bold" fill="#0d0d0d">F</text>
<line x1="396.90" y1="174.50" x2="396.90" y2="250.30" stroke="#262626" stroke-width="1.15"/>
<line x1="396.90" y1="249.80" x2="459.50" y2="249.80" stroke="#262626" stroke-width="1.15"/>
<line x1="395.10" y1="249.80" x2="396.90" y2="249.80" stroke="#262626" stroke-width="0.6"/>
<line x1="395.10" y1="246.88" x2="396.90" y2="246.88" stroke="#262626" stroke-width="0.6"/>
<line x1="395.10" y1="243.96" x2="396.90" y2="243.96" stroke="#262626" stroke-width="0.6"/>
<line x1="395.10" y1="241.04" x2="396.90" y2="241.04" stroke="#262626" stroke-width="0.6"/>
<line x1="395.10" y1="238.12" x2="396.90" y2="238.12" stroke="#262626" stroke-width="0.6"/>
<line x1="395.10" y1="235.20" x2="396.90" y2="235.20" stroke="#262626" stroke-width="0.6"/>
<line x1="395.10" y1="232.28" x2="396.90" y2="232.28" stroke="#262626" stroke-width="0.6"/>
<line x1="395.10" y1="229.36" x2="396.90" y2="229.36" stroke="#262626" stroke-width="0.6"/>
<line x1="395.10" y1="226.44" x2="396.90" y2="226.44" stroke="#262626" stroke-width="0.6"/>
<line x1="395.10" y1="223.52" x2="396.90" y2="223.52" stroke="#262626" stroke-width="0.6"/>
<line x1="395.10" y1="220.60" x2="396.90" y2="220.60" stroke="#262626" stroke-width="0.6"/>
<line x1="395.10" y1="217.68" x2="396.90" y2="217.68" stroke="#262626" stroke-width="0.6"/>
<line x1="395.10" y1="214.76" x2="396.90" y2="214.76" stroke="#262626" stroke-width="0.6"/>
<line x1="395.10" y1="211.84" x2="396.90" y2="211.84" stroke="#262626" stroke-width="0.6"/>
<line x1="395.10" y1="208.92" x2="396.90" y2="208.92" stroke="#262626" stroke-width="0.6"/>
<line x1="395.10" y1="206.00" x2="396.90" y2="206.00" stroke="#262626" stroke-width="0.6"/>
<line x1="395.10" y1="203.08" x2="396.90" y2="203.08" stroke="#262626" stroke-width="0.6"/>
<line x1="395.10" y1="200.16" x2="396.90" y2="200.16" stroke="#262626" stroke-width="0.6"/>
<line x1="395.10" y1="197.24" x2="396.90" y2="197.24" stroke="#262626" stroke-width="0.6"/>
<line x1="395.10" y1="194.32" x2="396.90" y2="194.32" stroke="#262626" stroke-width="0.6"/>
<line x1="395.10" y1="191.40" x2="396.90" y2="191.40" stroke="#262626" stroke-width="0.6"/>
<line x1="395.10" y1="188.48" x2="396.90" y2="188.48" stroke="#262626" stroke-width="0.6"/>
<line x1="395.10" y1="185.56" x2="396.90" y2="185.56" stroke="#262626" stroke-width="0.6"/>
<line x1="395.10" y1="182.64" x2="396.90" y2="182.64" stroke="#262626" stroke-width="0.6"/>
<line x1="394.10" y1="191.80" x2="396.90" y2="191.80" stroke="#262626" stroke-width="0.9"/>
<text x="391.40" y="194.60" font-size="9.2" text-anchor="end" textLength="13.51" lengthAdjust="spacingAndGlyphs">200</text>
<line x1="394.10" y1="221.00" x2="396.90" y2="221.00" stroke="#262626" stroke-width="0.9"/>
<text x="391.40" y="223.80" font-size="9.2" text-anchor="end" textLength="13.51" lengthAdjust="spacingAndGlyphs">100</text>
<line x1="394.10" y1="249.80" x2="396.90" y2="249.80" stroke="#262626" stroke-width="0.9"/>
<text x="391.40" y="252.60" font-size="9.2" text-anchor="end" textLength="4.50" lengthAdjust="spacingAndGlyphs">0</text>
<text x="373.00" y="212.10" font-size="10.2" text-anchor="middle" textLength="22.40" lengthAdjust="spacingAndGlyphs" transform="rotate(-90 373.00 212.10)">Events</text>
<line x1="403.40" y1="249.80" x2="403.40" y2="252.30" stroke="#262626" stroke-width="0.7"/>
<line x1="416.60" y1="249.80" x2="416.60" y2="252.30" stroke="#262626" stroke-width="0.7"/>
<line x1="418.60" y1="249.80" x2="418.60" y2="252.30" stroke="#262626" stroke-width="0.7"/>
<line x1="420.50" y1="249.80" x2="420.50" y2="252.30" stroke="#262626" stroke-width="0.7"/>
<line x1="422.90" y1="249.80" x2="422.90" y2="252.30" stroke="#262626" stroke-width="0.7"/>
<line x1="436.90" y1="249.80" x2="436.90" y2="252.30" stroke="#262626" stroke-width="0.7"/>
<line x1="452.50" y1="249.80" x2="452.50" y2="252.30" stroke="#262626" stroke-width="0.7"/>
<text x="396.30" y="263.10" font-size="7.3">-10<tspan font-size="5.2" dy="-3.2">3</tspan></text>
<text x="420.00" y="263.10" font-size="7.3" text-anchor="middle">0</text>
<text x="431.90" y="263.10" font-size="7.3">10<tspan font-size="5.2" dy="-3.2">3</tspan></text>
<text x="446.90" y="263.10" font-size="7.3">10<tspan font-size="5.2" dy="-3.2">4</tspan></text>
<text x="409.60" y="276.00" font-size="9" textLength="37.70" lengthAdjust="spacingAndGlyphs">CD62P APC</text>
<path d="M397.50,249.60 L401.00,248.50 L404.00,245.00 L406.00,238.00 L408.00,226.00 L410.00,213.00 L412.00,201.00 L414.00,190.00 L415.50,184.00 L416.80,179.00 L417.80,177.20 L418.80,177.80 L419.50,181.00 L420.30,184.00 L421.00,184.50 L421.80,188.00 L422.80,195.00 L424.00,204.00 L425.50,214.00 L427.00,224.00 L428.50,232.00 L430.00,239.00 L432.00,244.50 L434.50,247.50 L438.00,249.00 L445.00,249.50 L459.00,249.70 Z" fill="#3c5aaa" fill-opacity="0.45" stroke="#2c4b92" stroke-width="0.9"/>
<path d="M397.50,249.60 L400.50,248.30 L403.50,245.00 L405.50,238.00 L407.00,229.00 L408.50,219.00 L410.00,211.00 L411.00,209.00 L412.00,203.00 L413.50,196.00 L414.80,191.00 L415.80,189.00 L416.80,189.50 L417.60,188.20 L418.60,188.00 L419.40,191.00 L420.30,194.00 L421.50,200.00 L423.00,208.00 L424.50,217.00 L426.00,226.00 L427.50,234.00 L429.00,240.00 L431.00,245.00 L433.50,248.00 L437.00,249.30 L445.00,249.60 L459.00,249.70 Z" fill="#9a3a58" fill-opacity="0.82" stroke="#c8103c" stroke-width="0.9"/>
<line x1="396.90" y1="174.50" x2="396.90" y2="250.30" stroke="#262626" stroke-width="1.15"/>
<line x1="396.90" y1="249.80" x2="459.50" y2="249.80" stroke="#262626" stroke-width="1.15"/>
<text x="7.00" y="310.60" font-size="11" font-weight="bold" fill="#0d0d0d">G</text>
<text x="84.60" y="318.60" font-size="9.2" fill="#1e1e1e" textLength="53.20" lengthAdjust="spacingAndGlyphs">Resting PLTs</text>
<line x1="52.50" y1="325.50" x2="52.50" y2="404.90" stroke="#262626" stroke-width="1.15"/>
<line x1="52.50" y1="404.60" x2="168.80" y2="404.60" stroke="#262626" stroke-width="1.15"/>
<line x1="49.70" y1="327.00" x2="52.50" y2="327.00" stroke="#262626" stroke-width="0.9"/>
<text x="47.00" y="329.80" font-size="9.2" text-anchor="end" textLength="18.01" lengthAdjust="spacingAndGlyphs">2000</text>
<line x1="49.70" y1="346.40" x2="52.50" y2="346.40" stroke="#262626" stroke-width="0.9"/>
<text x="47.00" y="349.20" font-size="9.2" text-anchor="end" textLength="18.01" lengthAdjust="spacingAndGlyphs">1500</text>
<line x1="49.70" y1="365.80" x2="52.50" y2="365.80" stroke="#262626" stroke-width="0.9"/>
<text x="47.00" y="368.60" font-size="9.2" text-anchor="end" textLength="18.01" lengthAdjust="spacingAndGlyphs">1000</text>
<line x1="49.70" y1="385.20" x2="52.50" y2="385.20" stroke="#262626" stroke-width="0.9"/>
<text x="47.00" y="388.00" font-size="9.2" text-anchor="end" textLength="13.51" lengthAdjust="spacingAndGlyphs">500</text>
<line x1="49.70" y1="404.60" x2="52.50" y2="404.60" stroke="#262626" stroke-width="0.9"/>
<text x="47.00" y="407.40" font-size="9.2" text-anchor="end" textLength="4.50" lengthAdjust="spacingAndGlyphs">0</text>
<text x="23.30" y="364.00" font-size="8.3" text-anchor="middle" textLength="68.00" lengthAdjust="spacingAndGlyphs" transform="rotate(-90 23.30 364.00)">GEO-MFI CD62P APC</text>
<line x1="69.90" y1="404.60" x2="69.90" y2="407.30" stroke="#262626" stroke-width="0.85"/>
<text x="69.90" y="417.70" font-size="8.3" text-anchor="middle">HC</text>
<line x1="96.60" y1="404.60" x2="96.60" y2="407.30" stroke="#262626" stroke-width="0.85"/>
<text x="96.60" y="417.70" font-size="8.3" text-anchor="middle">I</text>
<line x1="123.40" y1="404.60" x2="123.40" y2="407.30" stroke="#262626" stroke-width="0.85"/>
<text x="123.40" y="417.70" font-size="8.3" text-anchor="middle">II</text>
<line x1="150.00" y1="404.60" x2="150.00" y2="407.30" stroke="#262626" stroke-width="0.85"/>
<text x="150.00" y="417.70" font-size="8.3" text-anchor="middle">III</text>
<circle cx="70.00" cy="358.20" r="1.9" fill="#dedede" stroke="#161616" stroke-width="0.85"/>
<circle cx="69.10" cy="367.10" r="1.9" fill="#dedede" stroke="#161616" stroke-width="0.85"/>
<circle cx="71.10" cy="369.80" r="1.9" fill="#dedede" stroke="#161616" stroke-width="0.85"/>
<circle cx="68.60" cy="378.00" r="1.9" fill="#dedede" stroke="#161616" stroke-width="0.85"/>
<circle cx="70.70" cy="379.30" r="1.9" fill="#dedede" stroke="#161616" stroke-width="0.85"/>
<circle cx="71.70" cy="381.70" r="1.9" fill="#dedede" stroke="#161616" stroke-width="0.85"/>
<circle cx="69.70" cy="386.20" r="1.9" fill="#dedede" stroke="#161616" stroke-width="0.85"/>
<circle cx="68.00" cy="389.60" r="1.9" fill="#dedede" stroke="#161616" stroke-width="0.85"/>
<circle cx="72.50" cy="389.90" r="1.9" fill="#dedede" stroke="#161616" stroke-width="0.85"/>
<circle cx="66.20" cy="392.30" r="1.9" fill="#dedede" stroke="#161616" stroke-width="0.85"/>
<circle cx="70.00" cy="391.60" r="1.9" fill="#dedede" stroke="#161616" stroke-width="0.85"/>
<circle cx="67.60" cy="395.00" r="1.9" fill="#dedede" stroke="#161616" stroke-width="0.85"/>
<circle cx="71.40" cy="395.00" r="1.9" fill="#dedede" stroke="#161616" stroke-width="0.85"/>
<circle cx="74.10" cy="397.10" r="1.9" fill="#dedede" stroke="#161616" stroke-width="0.85"/>
<circle cx="64.60" cy="399.10" r="1.9" fill="#dedede" stroke="#161616" stroke-width="0.85"/>
<circle cx="68.60" cy="397.80" r="1.9" fill="#dedede" stroke="#161616" stroke-width="0.85"/>
<circle cx="66.60" cy="401.60" r="1.9" fill="#dedede" stroke="#161616" stroke-width="0.85"/>
<circle cx="71.40" cy="400.50" r="1.9" fill="#dedede" stroke="#161616" stroke-width="0.85"/>
<circle cx="74.80" cy="401.20" r="1.9" fill="#dedede" stroke="#161616" stroke-width="0.85"/>
<circle cx="76.80" cy="403.90" r="1.9" fill="#dedede" stroke="#161616" stroke-width="0.85"/>
<circle cx="63.20" cy="400.50" r="1.9" fill="#dedede" stroke="#161616" stroke-width="0.85"/>
<circle cx="73.00" cy="393.00" r="1.9" fill="#dedede" stroke="#161616" stroke-width="0.85"/>
<circle cx="65.00" cy="396.00" r="1.9" fill="#dedede" stroke="#161616" stroke-width="0.85"/>
<line x1="70.00" y1="386.60" x2="70.00" y2="403.00" stroke="#333" stroke-width="0.85"/>
<line x1="65.20" y1="386.60" x2="74.80" y2="386.60" stroke="#333" stroke-width="0.85"/>
<line x1="65.20" y1="403.00" x2="74.80" y2="403.00" stroke="#333" stroke-width="0.85"/>
<line x1="60.70" y1="395.40" x2="79.30" y2="395.40" stroke="#262626" stroke-width="0.95"/>
<circle cx="96.60" cy="378.70" r="1.7" fill="#6fcb45" stroke="#161616" stroke-width="0.9"/>
<circle cx="95.90" cy="381.10" r="1.7" fill="#6fcb45" stroke="#161616" stroke-width="0.9"/>
<circle cx="98.00" cy="386.60" r="1.7" fill="#6fcb45" stroke="#161616" stroke-width="0.9"/>
<circle cx="90.20" cy="389.30" r="1.7" fill="#6fcb45" stroke="#161616" stroke-width="0.9"/>
<circle cx="95.90" cy="390.70" r="1.7" fill="#6fcb45" stroke="#161616" stroke-width="0.9"/>
<circle cx="99.50" cy="391.00" r="1.7" fill="#6fcb45" stroke="#161616" stroke-width="0.9"/>
<circle cx="102.80" cy="393.40" r="1.7" fill="#6fcb45" stroke="#161616" stroke-width="0.9"/>
<circle cx="91.60" cy="394.00" r="1.7" fill="#6fcb45" stroke="#161616" stroke-width="0.9"/>
<circle cx="94.50" cy="394.50" r="1.7" fill="#6fcb45" stroke="#161616" stroke-width="0.9"/>
<circle cx="100.20" cy="393.80" r="1.7" fill="#6fcb45" stroke="#161616" stroke-width="0.9"/>
<circle cx="93.20" cy="397.10" r="1.7" fill="#6fcb45" stroke="#161616" stroke-width="0.9"/>
<circle cx="95.90" cy="397.80" r="1.7" fill="#6fcb45" stroke="#161616" stroke-width="0.9"/>
<circle cx="98.70" cy="399.10" r="1.7" fill="#6fcb45" stroke="#161616" stroke-width="0.9"/>
<circle cx="101.10" cy="401.60" r="1.7" fill="#6fcb45" stroke="#161616" stroke-width="0.9"/>
<circle cx="89.10" cy="391.60" r="1.7" fill="#6fcb45" stroke="#161616" stroke-width="0.9"/>
<line x1="87.80" y1="392.30" x2="104.80" y2="392.30" stroke="#262626" stroke-width="0.95"/>
<line x1="123.60" y1="380.80" x2="123.60" y2="397.50" stroke="#8a8a8a" stroke-width="0.85"/>
<line x1="119.20" y1="380.80" x2="128.00" y2="380.80" stroke="#262626" stroke-width="0.85"/>
<line x1="119.20" y1="397.50" x2="128.00" y2="397.50" stroke="#262626" stroke-width="0.85"/>
<circle cx="123.60" cy="360.10" r="1.7" fill="#2a529c" stroke="#161616" stroke-width="0.9"/>
<circle cx="123.60" cy="372.60" r="1.7" fill="#2a529c" stroke="#161616" stroke-width="0.9"/>
<circle cx="123.60" cy="383.10" r="1.7" fill="#2a529c" stroke="#161616" stroke-width="0.9"/>
<circle cx="123.60" cy="389.40" r="1.7" fill="#2a529c" stroke="#161616" stroke-width="0.9"/>
<circle cx="116.70" cy="398.20" r="1.7" fill="#2a529c" stroke="#161616" stroke-width="0.9"/>
<circle cx="118.90" cy="399.00" r="1.7" fill="#2a529c" stroke="#161616" stroke-width="0.9"/>
<circle cx="121.10" cy="399.00" r="1.7" fill="#2a529c" stroke="#161616" stroke-width="0.9"/>
<circle cx="124.80" cy="396.70" r="1.7" fill="#2a529c" stroke="#161616" stroke-width="0.9"/>
<circle cx="127.40" cy="401.20" r="1.7" fill="#2a529c" stroke="#161616" stroke-width="0.9"/>
<circle cx="130.00" cy="402.40" r="1.7" fill="#2a529c" stroke="#161616" stroke-width="0.9"/>
<line x1="115.20" y1="397.50" x2="132.50" y2="397.50" stroke="#262626" stroke-width="0.95"/>
<line x1="149.90" y1="359.30" x2="149.90" y2="400.40" stroke="#8f8f8f" stroke-width="0.85"/>
<line x1="145.20" y1="359.30" x2="154.60" y2="359.30" stroke="#262626" stroke-width="0.85"/>
<line x1="145.20" y1="400.40" x2="154.60" y2="400.40" stroke="#262626" stroke-width="0.85"/>
<line x1="141.00" y1="396.00" x2="158.80" y2="396.00" stroke="#262626" stroke-width="0.95"/>
<circle cx="149.90" cy="349.40" r="1.7" fill="#cc0f35" stroke="#161616" stroke-width="0.9"/>
<circle cx="149.90" cy="362.70" r="1.7" fill="#cc0f35" stroke="#161616" stroke-width="0.9"/>
<circle cx="142.80" cy="395.60" r="1.7" fill="#cc0f35" stroke="#161616" stroke-width="0.9"/>
<circle cx="148.10" cy="396.00" r="1.7" fill="#cc0f35" stroke="#161616" stroke-width="0.9"/>
<circle cx="152.10" cy="400.40" r="1.7" fill="#cc0f35" stroke="#161616" stroke-width="0.9"/>
<circle cx="156.60" cy="400.90" r="1.7" fill="#cc0f35" stroke="#161616" stroke-width="0.9"/>
<text x="178.30" y="310.60" font-size="11" font-weight="bold" fill="#0d0d0d">H</text>
<line x1="228.50" y1="333.00" x2="228.50" y2="405.00" stroke="#262626" stroke-width="1.15"/>
<line x1="228.50" y1="404.60" x2="305.00" y2="404.60" stroke="#262626" stroke-width="1.15"/>
<line x1="225.70" y1="355.30" x2="228.50" y2="355.30" stroke="#262626" stroke-width="0.9"/>
<text x="222.10" y="358.10" font-size="9.2" text-anchor="end" textLength="13.51" lengthAdjust="spacingAndGlyphs">200</text>
<line x1="225.70" y1="380.20" x2="228.50" y2="380.20" stroke="#262626" stroke-width="0.9"/>
<text x="222.10" y="383.00" font-size="9.2" text-anchor="end" textLength="13.51" lengthAdjust="spacingAndGlyphs">100</text>
<line x1="225.70" y1="404.60" x2="228.50" y2="404.60" stroke="#262626" stroke-width="0.9"/>
<text x="222.10" y="407.40" font-size="9.2" text-anchor="end" textLength="4.50" lengthAdjust="spacingAndGlyphs">0</text>
<text x="203.50" y="368.60" font-size="10.2" text-anchor="middle" textLength="21.60" lengthAdjust="spacingAndGlyphs" transform="rotate(-90 203.50 368.60)">Events</text>
<line x1="232.50" y1="404.60" x2="232.50" y2="406.60" stroke="#262626" stroke-width="0.55"/>
<line x1="234.50" y1="404.60" x2="234.50" y2="406.60" stroke="#262626" stroke-width="0.55"/>
<line x1="236.50" y1="404.60" x2="236.50" y2="406.60" stroke="#262626" stroke-width="0.55"/>
<line x1="238.30" y1="404.60" x2="238.30" y2="406.60" stroke="#262626" stroke-width="0.55"/>
<line x1="240.00" y1="404.60" x2="240.00" y2="406.60" stroke="#262626" stroke-width="0.55"/>
<line x1="241.20" y1="404.60" x2="241.20" y2="406.60" stroke="#262626" stroke-width="0.55"/>
<line x1="242.00" y1="404.60" x2="242.00" y2="406.60" stroke="#262626" stroke-width="0.55"/>
<line x1="242.80" y1="404.60" x2="242.80" y2="406.60" stroke="#262626" stroke-width="0.55"/>
<line x1="244.00" y1="404.60" x2="244.00" y2="406.60" stroke="#262626" stroke-width="0.55"/>
<line x1="245.70" y1="404.60" x2="245.70" y2="406.60" stroke="#262626" stroke-width="0.55"/>
<line x1="247.50" y1="404.60" x2="247.50" y2="406.60" stroke="#262626" stroke-width="0.55"/>
<line x1="249.50" y1="404.60" x2="249.50" y2="406.60" stroke="#262626" stroke-width="0.55"/>
<line x1="251.15" y1="404.60" x2="251.15" y2="406.60" stroke="#262626" stroke-width="0.55"/>
<line x1="255.17" y1="404.60" x2="255.17" y2="406.60" stroke="#262626" stroke-width="0.55"/>
<line x1="257.52" y1="404.60" x2="257.52" y2="406.60" stroke="#262626" stroke-width="0.55"/>
<line x1="259.19" y1="404.60" x2="259.19" y2="406.60" stroke="#262626" stroke-width="0.55"/>
<line x1="260.48" y1="404.60" x2="260.48" y2="406.60" stroke="#262626" stroke-width="0.55"/>
<line x1="261.54" y1="404.60" x2="261.54" y2="406.60" stroke="#262626" stroke-width="0.55"/>
<line x1="262.43" y1="404.60" x2="262.43" y2="406.60" stroke="#262626" stroke-width="0.55"/>
<line x1="263.21" y1="404.60" x2="263.21" y2="406.60" stroke="#262626" stroke-width="0.55"/>
<line x1="263.89" y1="404.60" x2="263.89" y2="406.60" stroke="#262626" stroke-width="0.55"/>
<line x1="264.50" y1="404.60" x2="264.50" y2="406.60" stroke="#262626" stroke-width="0.55"/>
<line x1="268.52" y1="404.60" x2="268.52" y2="406.60" stroke="#262626" stroke-width="0.55"/>
<line x1="270.87" y1="404.60" x2="270.87" y2="406.60" stroke="#262626" stroke-width="0.55"/>
<line x1="272.54" y1="404.60" x2="272.54" y2="406.60" stroke="#262626" stroke-width="0.55"/>
<line x1="273.83" y1="404.60" x2="273.83" y2="406.60" stroke="#262626" stroke-width="0.55"/>
<line x1="274.89" y1="404.60" x2="274.89" y2="406.60" stroke="#262626" stroke-width="0.55"/>
<line x1="275.78" y1="404.60" x2="275.78" y2="406.60" stroke="#262626" stroke-width="0.55"/>
<line x1="276.56" y1="404.60" x2="276.56" y2="406.60" stroke="#262626" stroke-width="0.55"/>
<line x1="277.24" y1="404.60" x2="277.24" y2="406.60" stroke="#262626" stroke-width="0.55"/>
<line x1="277.85" y1="404.60" x2="277.85" y2="406.60" stroke="#262626" stroke-width="0.55"/>
<line x1="281.87" y1="404.60" x2="281.87" y2="406.60" stroke="#262626" stroke-width="0.55"/>
<line x1="284.22" y1="404.60" x2="284.22" y2="406.60" stroke="#262626" stroke-width="0.55"/>
<line x1="285.89" y1="404.60" x2="285.89" y2="406.60" stroke="#262626" stroke-width="0.55"/>
<line x1="287.18" y1="404.60" x2="287.18" y2="406.60" stroke="#262626" stroke-width="0.55"/>
<line x1="288.24" y1="404.60" x2="288.24" y2="406.60" stroke="#262626" stroke-width="0.55"/>
<line x1="289.13" y1="404.60" x2="289.13" y2="406.60" stroke="#262626" stroke-width="0.55"/>
<line x1="289.91" y1="404.60" x2="289.91" y2="406.60" stroke="#262626" stroke-width="0.55"/>
<line x1="290.59" y1="404.60" x2="290.59" y2="406.60" stroke="#262626" stroke-width="0.55"/>
<line x1="291.20" y1="404.60" x2="291.20" y2="406.60" stroke="#262626" stroke-width="0.55"/>
<line x1="295.22" y1="404.60" x2="295.22" y2="406.60" stroke="#262626" stroke-width="0.55"/>
<line x1="297.57" y1="404.60" x2="297.57" y2="406.60" stroke="#262626" stroke-width="0.55"/>
<line x1="299.24" y1="404.60" x2="299.24" y2="406.60" stroke="#262626" stroke-width="0.55"/>
<line x1="242.00" y1="404.60" x2="242.00" y2="407.40" stroke="#262626" stroke-width="0.8"/>
<line x1="264.50" y1="404.60" x2="264.50" y2="407.40" stroke="#262626" stroke-width="0.8"/>
<line x1="291.20" y1="404.60" x2="291.20" y2="407.40" stroke="#262626" stroke-width="0.8"/>
<text x="242.20" y="417.40" font-size="7.4" text-anchor="middle">0</text>
<text x="261.10" y="417.40" font-size="7.4">10<tspan font-size="5.2" dy="-3.2">4</tspan></text>
<text x="287.20" y="417.40" font-size="7.4">10<tspan font-size="5.2" dy="-3.2">6</tspan></text>
<text x="249.50" y="430.80" font-size="9" textLength="35.30" lengthAdjust="spacingAndGlyphs">PAC-1 FITC</text>
<path d="M231.50,404.40 L233.50,401.50 L235.50,386.00 L237.50,366.00 L239.50,351.30 L241.50,347.50 L243.10,346.90 L244.50,349.50 L245.70,356.60 L247.50,370.80 L249.30,381.50 L252.00,392.10 L254.60,397.40 L258.20,401.00 L263.50,403.10 L266.10,403.80 L270.00,404.40 Z" fill="#3c5aaa" fill-opacity="0.45" stroke="#2c4b92" stroke-width="0.9"/>
<path d="M231.00,404.40 L232.40,403.40 L233.70,397.40 L235.10,383.20 L236.50,365.50 L238.60,347.70 L240.30,338.50 L241.80,333.90 L243.30,338.00 L244.90,347.70 L246.60,365.50 L248.40,383.20 L250.20,397.40 L252.00,402.70 L254.00,404.40 Z" fill="#9a3a58" fill-opacity="0.82" stroke="#c8103c" stroke-width="0.9"/>
<line x1="228.50" y1="333.00" x2="228.50" y2="405.00" stroke="#262626" stroke-width="1.15"/>
<line x1="228.50" y1="404.60" x2="305.00" y2="404.60" stroke="#262626" stroke-width="1.15"/>
<text x="353.30" y="310.60" font-size="11" font-weight="bold" fill="#0d0d0d">I</text>
<text x="428.80" y="318.60" font-size="9.2" fill="#1e1e1e" textLength="53.20" lengthAdjust="spacingAndGlyphs">Resting PLTs</text>
<line x1="397.00" y1="325.00" x2="397.00" y2="404.90" stroke="#262626" stroke-width="1.15"/>
<line x1="397.00" y1="404.50" x2="513.00" y2="404.50" stroke="#262626" stroke-width="1.15"/>
<line x1="394.20" y1="327.00" x2="397.00" y2="327.00" stroke="#262626" stroke-width="0.9"/>
<text x="391.60" y="329.80" font-size="9.2" text-anchor="end" textLength="13.51" lengthAdjust="spacingAndGlyphs">500</text>
<line x1="394.20" y1="342.50" x2="397.00" y2="342.50" stroke="#262626" stroke-width="0.9"/>
<text x="391.60" y="345.30" font-size="9.2" text-anchor="end" textLength="13.51" lengthAdjust="spacingAndGlyphs">400</text>
<line x1="394.20" y1="358.00" x2="397.00" y2="358.00" stroke="#262626" stroke-width="0.9"/>
<text x="391.60" y="360.80" font-size="9.2" text-anchor="end" textLength="13.51" lengthAdjust="spacingAndGlyphs">300</text>
<line x1="394.20" y1="373.60" x2="397.00" y2="373.60" stroke="#262626" stroke-width="0.9"/>
<text x="391.60" y="376.40" font-size="9.2" text-anchor="end" textLength="13.51" lengthAdjust="spacingAndGlyphs">200</text>
<line x1="394.20" y1="389.10" x2="397.00" y2="389.10" stroke="#262626" stroke-width="0.9"/>
<text x="391.60" y="391.90" font-size="9.2" text-anchor="end" textLength="13.51" lengthAdjust="spacingAndGlyphs">100</text>
<line x1="394.20" y1="404.50" x2="397.00" y2="404.50" stroke="#262626" stroke-width="0.9"/>
<text x="391.60" y="407.30" font-size="9.2" text-anchor="end" textLength="4.50" lengthAdjust="spacingAndGlyphs">0</text>
<text x="372.50" y="364.50" font-size="8.3" text-anchor="middle" textLength="67.10" lengthAdjust="spacingAndGlyphs" transform="rotate(-90 372.50 364.50)">GEO-MFI PAC-1 FITC</text>
<line x1="414.60" y1="404.50" x2="414.60" y2="407.30" stroke="#262626" stroke-width="0.85"/>
<text x="414.60" y="417.70" font-size="8.3" text-anchor="middle">HC</text>
<line x1="441.30" y1="404.50" x2="441.30" y2="407.30" stroke="#262626" stroke-width="0.85"/>
<text x="441.30" y="417.70" font-size="8.3" text-anchor="middle">I</text>
<line x1="468.20" y1="404.50" x2="468.20" y2="407.30" stroke="#262626" stroke-width="0.85"/>
<text x="468.20" y="417.70" font-size="8.3" text-anchor="middle">II</text>
<line x1="495.10" y1="404.50" x2="495.10" y2="407.30" stroke="#262626" stroke-width="0.85"/>
<text x="495.10" y="417.70" font-size="8.3" text-anchor="middle">III</text>
<circle cx="414.80" cy="339.60" r="1.9" fill="#dedede" stroke="#161616" stroke-width="0.85"/>
<circle cx="414.80" cy="347.30" r="1.9" fill="#dedede" stroke="#161616" stroke-width="0.85"/>
<circle cx="414.00" cy="376.20" r="1.9" fill="#dedede" stroke="#161616" stroke-width="0.85"/>
<circle cx="415.70" cy="375.20" r="1.9" fill="#dedede" stroke="#161616" stroke-width="0.85"/>
<circle cx="414.80" cy="385.70" r="1.9" fill="#dedede" stroke="#161616" stroke-width="0.85"/>
<circle cx="411.90" cy="386.90" r="1.9" fill="#dedede" stroke="#161616" stroke-width="0.85"/>
<circle cx="417.00" cy="387.50" r="1.9" fill="#dedede" stroke="#161616" stroke-width="0.85"/>
<circle cx="410.20" cy="390.30" r="1.9" fill="#dedede" stroke="#161616" stroke-width="0.85"/>
<circle cx="413.60" cy="390.30" r="1.9" fill="#dedede" stroke="#161616" stroke-width="0.85"/>
<circle cx="417.90" cy="390.30" r="1.9" fill="#dedede" stroke="#161616" stroke-width="0.85"/>
<circle cx="409.40" cy="393.70" r="1.9" fill="#dedede" stroke="#161616" stroke-width="0.85"/>
<circle cx="412.80" cy="394.20" r="1.9" fill="#dedede" stroke="#161616" stroke-width="0.85"/>
<circle cx="416.20" cy="393.70" r="1.9" fill="#dedede" stroke="#161616" stroke-width="0.85"/>
<circle cx="419.60" cy="394.20" r="1.9" fill="#dedede" stroke="#161616" stroke-width="0.85"/>
<circle cx="421.80" cy="395.00" r="1.9" fill="#dedede" stroke="#161616" stroke-width="0.85"/>
<circle cx="411.90" cy="398.90" r="1.9" fill="#dedede" stroke="#161616" stroke-width="0.85"/>
<circle cx="415.30" cy="399.40" r="1.9" fill="#dedede" stroke="#161616" stroke-width="0.85"/>
<circle cx="418.70" cy="398.90" r="1.9" fill="#dedede" stroke="#161616" stroke-width="0.85"/>
<circle cx="417.00" cy="404.00" r="1.9" fill="#dedede" stroke="#161616" stroke-width="0.85"/>
<circle cx="413.00" cy="396.50" r="1.9" fill="#dedede" stroke="#161616" stroke-width="0.85"/>
<line x1="406.00" y1="393.70" x2="423.50" y2="393.70" stroke="#262626" stroke-width="0.95"/>
<circle cx="441.40" cy="361.90" r="1.7" fill="#6fcb45" stroke="#161616" stroke-width="0.9"/>
<circle cx="441.40" cy="384.70" r="1.7" fill="#6fcb45" stroke="#161616" stroke-width="0.9"/>
<circle cx="442.20" cy="386.90" r="1.7" fill="#6fcb45" stroke="#161616" stroke-width="0.9"/>
<circle cx="441.40" cy="392.60" r="1.7" fill="#6fcb45" stroke="#161616" stroke-width="0.9"/>
<circle cx="435.80" cy="400.60" r="1.7" fill="#6fcb45" stroke="#161616" stroke-width="0.9"/>
<circle cx="439.20" cy="399.80" r="1.7" fill="#6fcb45" stroke="#161616" stroke-width="0.9"/>
<circle cx="442.60" cy="397.70" r="1.7" fill="#6fcb45" stroke="#161616" stroke-width="0.9"/>
<circle cx="444.30" cy="400.60" r="1.7" fill="#6fcb45" stroke="#161616" stroke-width="0.9"/>
<circle cx="447.70" cy="401.70" r="1.7" fill="#6fcb45" stroke="#161616" stroke-width="0.9"/>
<circle cx="437.80" cy="401.70" r="1.7" fill="#6fcb45" stroke="#161616" stroke-width="0.9"/>
<circle cx="449.40" cy="402.70" r="1.7" fill="#6fcb45" stroke="#161616" stroke-width="0.9"/>
<circle cx="445.00" cy="402.50" r="1.7" fill="#6fcb45" stroke="#161616" stroke-width="0.9"/>
<line x1="437.80" y1="393.20" x2="445.60" y2="393.20" stroke="#262626" stroke-width="0.9"/>
<line x1="441.40" y1="393.20" x2="441.40" y2="400.00" stroke="#262626" stroke-width="0.8"/>
<circle cx="461.30" cy="400.90" r="1.7" fill="#2a529c" stroke="#161616" stroke-width="0.9"/>
<circle cx="463.50" cy="401.10" r="1.7" fill="#2a529c" stroke="#161616" stroke-width="0.9"/>
<circle cx="466.60" cy="398.75" r="1.7" fill="#2a529c" stroke="#161616" stroke-width="0.9"/>
<circle cx="469.80" cy="396.80" r="1.7" fill="#2a529c" stroke="#161616" stroke-width="0.9"/>
<circle cx="470.90" cy="399.30" r="1.7" fill="#2a529c" stroke="#161616" stroke-width="0.9"/>
<circle cx="473.50" cy="399.80" r="1.7" fill="#2a529c" stroke="#161616" stroke-width="0.9"/>
<circle cx="475.10" cy="401.70" r="1.7" fill="#2a529c" stroke="#161616" stroke-width="0.9"/>
<circle cx="468.75" cy="400.90" r="1.7" fill="#2a529c" stroke="#161616" stroke-width="0.9"/>
<circle cx="465.50" cy="401.20" r="1.7" fill="#2a529c" stroke="#161616" stroke-width="0.9"/>
<line x1="489.50" y1="398.80" x2="500.50" y2="398.80" stroke="#888" stroke-width="0.9"/>
<circle cx="488.80" cy="398.20" r="1.7" fill="#cc0f35" stroke="#161616" stroke-width="0.9"/>
<circle cx="491.50" cy="400.30" r="1.7" fill="#cc0f35" stroke="#161616" stroke-width="0.9"/>
<circle cx="494.10" cy="400.30" r="1.7" fill="#cc0f35" stroke="#161616" stroke-width="0.9"/>
<circle cx="496.80" cy="396.10" r="1.7" fill="#cc0f35" stroke="#161616" stroke-width="0.9"/>
<circle cx="499.40" cy="399.80" r="1.7" fill="#cc0f35" stroke="#161616" stroke-width="0.9"/>
<circle cx="502.10" cy="400.90" r="1.7" fill="#cc0f35" stroke="#161616" stroke-width="0.9"/>
</g>
<rect x="0.5" y="0.5" width="519" height="439" fill="none" stroke="#000" stroke-width="1.3"/>
</svg>
</body></html>
